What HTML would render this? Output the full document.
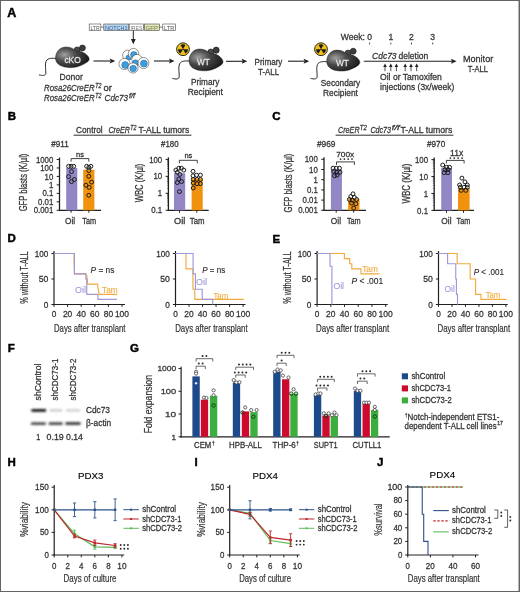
<!DOCTYPE html>
<html><head><meta charset="utf-8"><style>
html,body{margin:0;padding:0;background:#fff;}
#wrap{position:relative;width:520px;height:592px;overflow:hidden;background:#fff;}
svg{position:absolute;left:0;top:0;will-change:transform;}
text{font-family:"Liberation Sans", sans-serif;}
</style></head><body><div id="wrap">
<svg width="520" height="592" viewBox="0 0 520 592">
<rect x="0" y="0" width="520" height="592" fill="#fff"/>
<text x="7.30" y="16.90" font-size="12.5" font-weight="bold" fill="#000" stroke="#000" stroke-width="0.45" >A</text>
<defs><radialGradient id="mg" cx="0.27" cy="0.38" r="0.8"><stop offset="0" stop-color="#a0a0a0"/><stop offset="0.4" stop-color="#4a4a4a"/><stop offset="1" stop-color="#141414"/></radialGradient></defs>
<g transform="translate(55.50 46.90) scale(0.99 0.98)">
<path d="M1 11.8 C -3 11.5, -7.5 11, -9.5 14.5 C -11 18, -9.5 24, -9.8 27 C -10 29.5, -13 29.5, -16.7 28.5" stroke="#151515" stroke-width="0.9" fill="none" />
<circle cx="21.8" cy="2.9" r="2.9" fill="#4a4a4a" stroke="#151515" stroke-width="0.6"/><circle cx="27.2" cy="1.1" r="3.0" fill="#3c3c3c" stroke="#151515" stroke-width="0.6"/>
<path d="M0 11.5 C0 4.5, 5 0, 10.5 0 C15 0, 18.5 1.8, 21 4 C25 4.2, 29.5 5.5, 32.2 8.8 C34.6 11.3, 34.6 13.6, 32.5 15.2 C29 17.8, 24 20.3, 18 21.1 C11 21.7, 4 19.8, 1.5 16.2 C0.5 14.7, 0 13, 0 11.5 Z" fill="url(#mg)" stroke="#1a1a1a" stroke-width="0.4"/>
</g>
<text x="64.40" y="62.80" font-size="8.4" fill="#e6e6e6" stroke="#e6e6e6" stroke-width="0.26" textLength="16.40" lengthAdjust="spacingAndGlyphs" >cKO</text>
<text x="59.60" y="80.40" font-size="9.0" fill="#333333" stroke="#333333" stroke-width="0.26" textLength="23.30" lengthAdjust="spacingAndGlyphs" >Donor</text>
<text x="44.00" y="90.80" font-size="9.2" font-style="italic" fill="#333333" stroke="#333333" stroke-width="0.26" textLength="50.60" lengthAdjust="spacingAndGlyphs" >Rosa26CreER</text>
<text x="95.30" y="88.40" font-size="6.4" font-style="italic" fill="#333333" stroke="#333333" stroke-width="0.26" textLength="6.20" lengthAdjust="spacingAndGlyphs" >T2</text>
<text x="103.40" y="90.80" font-size="9.2" fill="#333333" stroke="#333333" stroke-width="0.26" textLength="8.40" lengthAdjust="spacingAndGlyphs" >or</text>
<text x="44.00" y="100.70" font-size="9.2" font-style="italic" fill="#333333" stroke="#333333" stroke-width="0.26" textLength="50.60" lengthAdjust="spacingAndGlyphs" >Rosa26CreER</text>
<text x="95.30" y="98.30" font-size="6.4" font-style="italic" fill="#333333" stroke="#333333" stroke-width="0.26" textLength="6.20" lengthAdjust="spacingAndGlyphs" >T2</text>
<text x="104.60" y="100.70" font-size="9.2" font-style="italic" fill="#333333" stroke="#333333" stroke-width="0.26" textLength="23.40" lengthAdjust="spacingAndGlyphs" >Cdc73</text>
<text x="128.90" y="98.30" font-size="6.4" font-style="italic" fill="#333333" stroke="#333333" stroke-width="0.26" textLength="6.20" lengthAdjust="spacingAndGlyphs" >f/f</text>
<line x1="93.50" y1="61.00" x2="110.70" y2="61.00" stroke="#231f20" stroke-width="1.1" />
<path d="M115.30 61.00 L109.70 58.50 L110.70 61.00 L109.70 63.50 Z" fill="#231f20"/>
<line x1="89.00" y1="27.10" x2="176.00" y2="27.10" stroke="#444" stroke-width="0.7" />
<rect x="89.20" y="24.00" width="11.60" height="6.60" fill="#fff" stroke="#4a4a4a" stroke-width="0.6"/>
<text x="95.00" y="29.50" font-size="6.0" text-anchor="middle" fill="#555" textLength="9.20" lengthAdjust="spacingAndGlyphs" >LTR</text>
<rect x="103.80" y="24.00" width="25.00" height="6.60" fill="#b9d3ec" stroke="#4a4a4a" stroke-width="0.6"/>
<text x="116.30" y="29.50" font-size="6.0" text-anchor="middle" fill="#2b5f96" textLength="22.60" lengthAdjust="spacingAndGlyphs" >NOTCH1</text>
<rect x="129.20" y="24.00" width="14.40" height="6.60" fill="#fff" stroke="#4a4a4a" stroke-width="0.6"/>
<text x="136.40" y="29.50" font-size="6.0" text-anchor="middle" fill="#777" textLength="12.00" lengthAdjust="spacingAndGlyphs" >IRES</text>
<rect x="144.30" y="24.00" width="15.00" height="6.60" fill="#dfe6b8" stroke="#4a4a4a" stroke-width="0.6"/>
<text x="151.80" y="29.50" font-size="6.0" text-anchor="middle" fill="#7a7a40" textLength="12.60" lengthAdjust="spacingAndGlyphs" >GFP</text>
<rect x="162.80" y="24.00" width="12.80" height="6.60" fill="#fff" stroke="#4a4a4a" stroke-width="0.6"/>
<text x="169.20" y="29.50" font-size="6.0" text-anchor="middle" fill="#555" textLength="10.40" lengthAdjust="spacingAndGlyphs" >LTR</text>
<line x1="133.30" y1="30.40" x2="133.30" y2="40.00" stroke="#231f20" stroke-width="1" />
<path d="M133.3 44.3 L130.9 39 L135.7 39 Z" fill="#231f20"/>
<circle cx="127.6" cy="55.2" r="5.0" fill="#fff" stroke="#4a3a3a" stroke-width="0.55"/>
<circle cx="128.5" cy="57.5" r="2.6" fill="#3d9ddb" stroke="#1f5f94" stroke-width="0.45"/>
<circle cx="133.5" cy="53.6" r="5.2" fill="#fff" stroke="#4a3a3a" stroke-width="0.55"/>
<circle cx="133.8" cy="54.8" r="3.3" fill="#3d9ddb" stroke="#1f5f94" stroke-width="0.45"/>
<circle cx="137.0" cy="59.6" r="5.2" fill="#fff" stroke="#4a3a3a" stroke-width="0.55"/>
<circle cx="135.4" cy="62.8" r="3.0" fill="#3d9ddb" stroke="#1f5f94" stroke-width="0.45"/>
<circle cx="124.5" cy="64.0" r="5.6" fill="#fff" stroke="#4a3a3a" stroke-width="0.55"/>
<circle cx="125.2" cy="65.0" r="3.5" fill="#3d9ddb" stroke="#1f5f94" stroke-width="0.45"/>
<circle cx="143.5" cy="63.0" r="5.5" fill="#fff" stroke="#4a3a3a" stroke-width="0.55"/>
<circle cx="143.9" cy="63.6" r="3.5" fill="#3d9ddb" stroke="#1f5f94" stroke-width="0.45"/>
<circle cx="133.0" cy="68.0" r="5.1" fill="#fff" stroke="#4a3a3a" stroke-width="0.55"/>
<circle cx="133.2" cy="68.6" r="3.3" fill="#3d9ddb" stroke="#1f5f94" stroke-width="0.45"/>
<line x1="154.00" y1="61.00" x2="170.00" y2="61.00" stroke="#231f20" stroke-width="1.1" />
<path d="M174.60 61.00 L169.00 58.50 L170.00 61.00 L169.00 63.50 Z" fill="#231f20"/>
<circle cx="183" cy="49.2" r="6.4" fill="#f2c21b" stroke="#1a1a1a" stroke-width="0.9"/>
<path d="M183.65 48.07 L185.50 44.88 A4.992000000000001 4.992000000000001 0 0 0 180.50 44.88 L182.35 48.07 Z" fill="#1a1a1a"/>
<path d="M181.70 49.20 L178.01 49.20 A4.992000000000001 4.992000000000001 0 0 0 180.50 53.52 L182.35 50.33 Z" fill="#1a1a1a"/>
<path d="M183.65 50.33 L185.50 53.52 A4.992000000000001 4.992000000000001 0 0 0 187.99 49.20 L184.30 49.20 Z" fill="#1a1a1a"/>
<circle cx="183" cy="49.2" r="0.9" fill="#1a1a1a"/>
<g transform="translate(189.00 49.00) scale(1.0 1.03)">
<path d="M1 11.8 C -3 11.5, -7.5 11, -9.5 14.5 C -11 18, -9.5 24, -9.8 27 C -10 29.5, -13 29.5, -16.7 28.5" stroke="#151515" stroke-width="0.9" fill="none" />
<circle cx="21.8" cy="2.9" r="2.9" fill="#4a4a4a" stroke="#151515" stroke-width="0.6"/><circle cx="27.2" cy="1.1" r="3.0" fill="#3c3c3c" stroke="#151515" stroke-width="0.6"/>
<path d="M0 11.5 C0 4.5, 5 0, 10.5 0 C15 0, 18.5 1.8, 21 4 C25 4.2, 29.5 5.5, 32.2 8.8 C34.6 11.3, 34.6 13.6, 32.5 15.2 C29 17.8, 24 20.3, 18 21.1 C11 21.7, 4 19.8, 1.5 16.2 C0.5 14.7, 0 13, 0 11.5 Z" fill="url(#mg)" stroke="#1a1a1a" stroke-width="0.4"/>
</g>
<text x="197.10" y="64.50" font-size="8.6" fill="#e6e6e6" stroke="#e6e6e6" stroke-width="0.26" textLength="12.80" lengthAdjust="spacingAndGlyphs" >WT</text>
<text x="191.00" y="84.50" font-size="8.8" fill="#333333" stroke="#333333" stroke-width="0.26" textLength="28.40" lengthAdjust="spacingAndGlyphs" >Primary</text>
<text x="187.80" y="94.80" font-size="8.8" fill="#333333" stroke="#333333" stroke-width="0.26" textLength="35.10" lengthAdjust="spacingAndGlyphs" >Recipient</text>
<line x1="226.00" y1="61.30" x2="242.70" y2="61.30" stroke="#231f20" stroke-width="1.1" />
<path d="M247.30 61.30 L241.70 58.80 L242.70 61.30 L241.70 63.80 Z" fill="#231f20"/>
<text x="254.50" y="65.40" font-size="8.8" fill="#333333" stroke="#333333" stroke-width="0.26" textLength="27.90" lengthAdjust="spacingAndGlyphs" >Primary</text>
<text x="258.00" y="75.40" font-size="8.8" fill="#333333" stroke="#333333" stroke-width="0.26" textLength="21.20" lengthAdjust="spacingAndGlyphs" >T-ALL</text>
<line x1="288.00" y1="61.20" x2="304.60" y2="61.20" stroke="#231f20" stroke-width="1.1" />
<path d="M309.20 61.20 L303.60 58.70 L304.60 61.20 L303.60 63.70 Z" fill="#231f20"/>
<circle cx="321" cy="49.2" r="6.4" fill="#f2c21b" stroke="#1a1a1a" stroke-width="0.9"/>
<path d="M321.65 48.07 L323.50 44.88 A4.992000000000001 4.992000000000001 0 0 0 318.50 44.88 L320.35 48.07 Z" fill="#1a1a1a"/>
<path d="M319.70 49.20 L316.01 49.20 A4.992000000000001 4.992000000000001 0 0 0 318.50 53.52 L320.35 50.33 Z" fill="#1a1a1a"/>
<path d="M321.65 50.33 L323.50 53.52 A4.992000000000001 4.992000000000001 0 0 0 325.99 49.20 L322.30 49.20 Z" fill="#1a1a1a"/>
<circle cx="321" cy="49.2" r="0.9" fill="#1a1a1a"/>
<g transform="translate(326.70 50.10) scale(0.975 0.99)">
<path d="M1 11.8 C -3 11.5, -7.5 11, -9.5 14.5 C -11 18, -9.5 24, -9.8 27 C -10 29.5, -13 29.5, -16.7 28.5" stroke="#151515" stroke-width="0.9" fill="none" />
<circle cx="21.8" cy="2.9" r="2.9" fill="#4a4a4a" stroke="#151515" stroke-width="0.6"/><circle cx="27.2" cy="1.1" r="3.0" fill="#3c3c3c" stroke="#151515" stroke-width="0.6"/>
<path d="M0 11.5 C0 4.5, 5 0, 10.5 0 C15 0, 18.5 1.8, 21 4 C25 4.2, 29.5 5.5, 32.2 8.8 C34.6 11.3, 34.6 13.6, 32.5 15.2 C29 17.8, 24 20.3, 18 21.1 C11 21.7, 4 19.8, 1.5 16.2 C0.5 14.7, 0 13, 0 11.5 Z" fill="url(#mg)" stroke="#1a1a1a" stroke-width="0.4"/>
</g>
<text x="335.90" y="65.60" font-size="8.8" fill="#e6e6e6" stroke="#e6e6e6" stroke-width="0.26" textLength="13.00" lengthAdjust="spacingAndGlyphs" >WT</text>
<text x="320.80" y="86.20" font-size="8.8" fill="#333333" stroke="#333333" stroke-width="0.26" textLength="39.40" lengthAdjust="spacingAndGlyphs" >Secondary</text>
<text x="323.00" y="96.20" font-size="8.8" fill="#333333" stroke="#333333" stroke-width="0.26" textLength="34.90" lengthAdjust="spacingAndGlyphs" >Recipient</text>
<text x="340.80" y="40.00" font-size="8.6" fill="#333333" stroke="#333333" stroke-width="0.26" >Week:</text>
<text x="369.60" y="40.00" font-size="8.6" text-anchor="middle" fill="#333333" stroke="#333333" stroke-width="0.26" >0</text>
<line x1="369.60" y1="42.60" x2="369.60" y2="44.40" stroke="#333333" stroke-width="0.9" />
<text x="390.80" y="40.00" font-size="8.6" text-anchor="middle" fill="#333333" stroke="#333333" stroke-width="0.26" >1</text>
<line x1="390.80" y1="42.60" x2="390.80" y2="44.40" stroke="#333333" stroke-width="0.9" />
<text x="411.50" y="40.00" font-size="8.6" text-anchor="middle" fill="#333333" stroke="#333333" stroke-width="0.26" >2</text>
<line x1="411.50" y1="42.60" x2="411.50" y2="44.40" stroke="#333333" stroke-width="0.9" />
<text x="432.70" y="40.00" font-size="8.6" text-anchor="middle" fill="#333333" stroke="#333333" stroke-width="0.26" >3</text>
<line x1="432.70" y1="42.60" x2="432.70" y2="44.40" stroke="#333333" stroke-width="0.9" />
<line x1="363.80" y1="61.20" x2="452.00" y2="61.20" stroke="#231f20" stroke-width="1.1" />
<path d="M456.60 61.20 L451.00 58.70 L452.00 61.20 L451.00 63.70 Z" fill="#231f20"/>
<text x="372.00" y="58.60" font-size="8.8" font-style="italic" fill="#333333" stroke="#333333" stroke-width="0.26" textLength="24.60" lengthAdjust="spacingAndGlyphs" >Cdc73</text>
<text x="398.40" y="58.60" font-size="8.8" fill="#333333" stroke="#333333" stroke-width="0.26" textLength="30.00" lengthAdjust="spacingAndGlyphs" >deletion</text>
<line x1="385.00" y1="65.50" x2="385.00" y2="71.20" stroke="#231f20" stroke-width="0.8" />
<path d="M385 63.4 L383.2 66.9 L386.8 66.9 Z" fill="#231f20"/>
<line x1="390.80" y1="65.50" x2="390.80" y2="71.20" stroke="#231f20" stroke-width="0.8" />
<path d="M390.8 63.4 L389.0 66.9 L392.6 66.9 Z" fill="#231f20"/>
<line x1="396.40" y1="65.50" x2="396.40" y2="71.20" stroke="#231f20" stroke-width="0.8" />
<path d="M396.4 63.4 L394.59999999999997 66.9 L398.2 66.9 Z" fill="#231f20"/>
<line x1="405.20" y1="65.50" x2="405.20" y2="71.20" stroke="#231f20" stroke-width="0.8" />
<path d="M405.2 63.4 L403.4 66.9 L407.0 66.9 Z" fill="#231f20"/>
<line x1="411.00" y1="65.50" x2="411.00" y2="71.20" stroke="#231f20" stroke-width="0.8" />
<path d="M411 63.4 L409.2 66.9 L412.8 66.9 Z" fill="#231f20"/>
<line x1="416.70" y1="65.50" x2="416.70" y2="71.20" stroke="#231f20" stroke-width="0.8" />
<path d="M416.7 63.4 L414.9 66.9 L418.5 66.9 Z" fill="#231f20"/>
<text x="380.00" y="80.20" font-size="8.9" fill="#333333" stroke="#333333" stroke-width="0.26" textLength="61.90" lengthAdjust="spacingAndGlyphs" >Oil or Tamoxifen</text>
<text x="380.00" y="89.90" font-size="8.9" fill="#333333" stroke="#333333" stroke-width="0.26" textLength="74.20" lengthAdjust="spacingAndGlyphs" >injections (3x/week)</text>
<text x="463.00" y="62.20" font-size="8.8" fill="#333333" stroke="#333333" stroke-width="0.26" textLength="30.20" lengthAdjust="spacingAndGlyphs" >Monitor</text>
<text x="467.70" y="72.00" font-size="8.8" fill="#333333" stroke="#333333" stroke-width="0.26" textLength="20.20" lengthAdjust="spacingAndGlyphs" >T-ALL</text>
<text x="7.70" y="120.30" font-size="11.5" font-weight="bold" fill="#000" stroke="#000" stroke-width="0.45" >B</text>
<text x="272.30" y="120.40" font-size="11.5" font-weight="bold" fill="#000" stroke="#000" stroke-width="0.45" >C</text>
<text x="76.00" y="132.80" font-size="8.6" fill="#333333" stroke="#333333" stroke-width="0.26" textLength="26.60" lengthAdjust="spacingAndGlyphs" >Control</text>
<text x="108.40" y="132.80" font-size="8.6" font-style="italic" fill="#333333" stroke="#333333" stroke-width="0.26" textLength="21.60" lengthAdjust="spacingAndGlyphs" >CreER</text>
<text x="130.20" y="130.00" font-size="6.6" font-style="italic" fill="#333333" stroke="#333333" stroke-width="0.26" textLength="6.20" lengthAdjust="spacingAndGlyphs" >T2</text>
<text x="138.40" y="132.80" font-size="8.6" fill="#333333" stroke="#333333" stroke-width="0.26" textLength="50.80" lengthAdjust="spacingAndGlyphs" >T-ALL tumors</text>
<line x1="73.60" y1="135.20" x2="191.40" y2="135.20" stroke="#231f20" stroke-width="0.95" />
<text x="338.00" y="132.80" font-size="8.6" font-style="italic" fill="#333333" stroke="#333333" stroke-width="0.26" textLength="21.60" lengthAdjust="spacingAndGlyphs" >CreER</text>
<text x="359.80" y="130.00" font-size="6.6" font-style="italic" fill="#333333" stroke="#333333" stroke-width="0.26" textLength="7.00" lengthAdjust="spacingAndGlyphs" >T2</text>
<text x="370.40" y="132.80" font-size="8.6" font-style="italic" fill="#333333" stroke="#333333" stroke-width="0.26" textLength="20.60" lengthAdjust="spacingAndGlyphs" >Cdc73</text>
<text x="391.80" y="130.00" font-size="6.6" font-style="italic" fill="#333333" stroke="#333333" stroke-width="0.26" textLength="7.80" lengthAdjust="spacingAndGlyphs" >f/f</text>
<text x="400.40" y="132.80" font-size="8.6" fill="#333333" stroke="#333333" stroke-width="0.26" textLength="52.00" lengthAdjust="spacingAndGlyphs" >T-ALL tumors</text>
<line x1="335.60" y1="135.20" x2="453.40" y2="135.20" stroke="#231f20" stroke-width="0.95" />
<line x1="59.50" y1="157.50" x2="59.50" y2="210.90" stroke="#231f20" stroke-width="1.3" />
<line x1="58.90" y1="210.30" x2="101.00" y2="210.30" stroke="#231f20" stroke-width="1.3" />
<line x1="56.70" y1="210.30" x2="59.50" y2="210.30" stroke="#231f20" stroke-width="1.0" />
<text x="53.30" y="213.40" font-size="8.7" text-anchor="end" fill="#333333" stroke="#333333" stroke-width="0.26" textLength="19.59" lengthAdjust="spacingAndGlyphs" >0.001</text>
<line x1="56.70" y1="201.83" x2="59.50" y2="201.83" stroke="#231f20" stroke-width="1.0" />
<text x="53.30" y="204.93" font-size="8.7" text-anchor="end" fill="#333333" stroke="#333333" stroke-width="0.26" textLength="15.24" lengthAdjust="spacingAndGlyphs" >0.01</text>
<line x1="56.70" y1="193.37" x2="59.50" y2="193.37" stroke="#231f20" stroke-width="1.0" />
<text x="53.30" y="196.47" font-size="8.7" text-anchor="end" fill="#333333" stroke="#333333" stroke-width="0.26" textLength="10.89" lengthAdjust="spacingAndGlyphs" >0.1</text>
<line x1="56.70" y1="184.90" x2="59.50" y2="184.90" stroke="#231f20" stroke-width="1.0" />
<text x="53.30" y="188.00" font-size="8.7" text-anchor="end" fill="#333333" stroke="#333333" stroke-width="0.26" textLength="4.35" lengthAdjust="spacingAndGlyphs" >1</text>
<line x1="56.70" y1="176.43" x2="59.50" y2="176.43" stroke="#231f20" stroke-width="1.0" />
<text x="53.30" y="179.53" font-size="8.7" text-anchor="end" fill="#333333" stroke="#333333" stroke-width="0.26" textLength="8.71" lengthAdjust="spacingAndGlyphs" >10</text>
<line x1="56.70" y1="167.97" x2="59.50" y2="167.97" stroke="#231f20" stroke-width="1.0" />
<text x="53.30" y="171.07" font-size="8.7" text-anchor="end" fill="#333333" stroke="#333333" stroke-width="0.26" textLength="13.06" lengthAdjust="spacingAndGlyphs" >100</text>
<line x1="56.70" y1="159.50" x2="59.50" y2="159.50" stroke="#231f20" stroke-width="1.0" />
<text x="53.30" y="162.60" font-size="8.7" text-anchor="end" fill="#333333" stroke="#333333" stroke-width="0.26" textLength="17.42" lengthAdjust="spacingAndGlyphs" >1000</text>
<text x="23.60" y="182.50" font-size="10.0" text-anchor="middle" fill="#333333" stroke="#333333" stroke-width="0.26" textLength="57.7" lengthAdjust="spacingAndGlyphs" transform="rotate(-90 23.60 182.50)" dominant-baseline="central">GFP blasts (K/µl)</text>
<rect x="66.20" y="168.00" width="11.10" height="42.30" fill="#9287c4" />
<line x1="71.10" y1="210.30" x2="71.10" y2="212.70" stroke="#231f20" stroke-width="1.0" />
<text x="65.00" y="223.90" font-size="8.6" fill="#333333" stroke="#333333" stroke-width="0.26" textLength="10.20" lengthAdjust="spacingAndGlyphs" >Oil</text>
<circle cx="68.60" cy="166.30" r="1.95" fill="none" stroke="#1a1a1a" stroke-width="1.0"/>
<circle cx="71.10" cy="166.30" r="1.95" fill="none" stroke="#1a1a1a" stroke-width="1.0"/>
<circle cx="73.70" cy="166.30" r="1.95" fill="none" stroke="#1a1a1a" stroke-width="1.0"/>
<circle cx="71.50" cy="171.60" r="1.95" fill="none" stroke="#1a1a1a" stroke-width="1.0"/>
<circle cx="68.60" cy="176.60" r="1.95" fill="none" stroke="#1a1a1a" stroke-width="1.0"/>
<circle cx="74.40" cy="179.50" r="1.95" fill="none" stroke="#1a1a1a" stroke-width="1.0"/>
<circle cx="71.50" cy="181.60" r="1.95" fill="none" stroke="#1a1a1a" stroke-width="1.0"/>
<rect x="83.20" y="169.70" width="11.20" height="40.60" fill="#f1920f" />
<line x1="88.80" y1="210.30" x2="88.80" y2="212.70" stroke="#231f20" stroke-width="1.0" />
<text x="82.30" y="223.90" font-size="8.6" fill="#333333" stroke="#333333" stroke-width="0.26" textLength="13.80" lengthAdjust="spacingAndGlyphs" >Tam</text>
<circle cx="86.60" cy="166.30" r="1.95" fill="none" stroke="#1a1a1a" stroke-width="1.0"/>
<circle cx="90.90" cy="166.30" r="1.95" fill="none" stroke="#1a1a1a" stroke-width="1.0"/>
<circle cx="88.80" cy="167.30" r="1.95" fill="none" stroke="#1a1a1a" stroke-width="1.0"/>
<circle cx="88.80" cy="170.60" r="1.95" fill="none" stroke="#1a1a1a" stroke-width="1.0"/>
<circle cx="88.80" cy="176.30" r="1.95" fill="none" stroke="#1a1a1a" stroke-width="1.0"/>
<circle cx="91.60" cy="182.10" r="1.95" fill="none" stroke="#1a1a1a" stroke-width="1.0"/>
<circle cx="85.90" cy="185.20" r="1.95" fill="none" stroke="#1a1a1a" stroke-width="1.0"/>
<circle cx="89.20" cy="187.40" r="1.95" fill="none" stroke="#1a1a1a" stroke-width="1.0"/>
<circle cx="88.80" cy="195.30" r="1.95" fill="none" stroke="#1a1a1a" stroke-width="1.0"/>
<text x="51.20" y="146.70" font-size="8.2" fill="#333333" stroke="#333333" stroke-width="0.26" textLength="17.50" lengthAdjust="spacingAndGlyphs" >#911</text>
<path d="M71.1 161.6 L71.1 158.6 L88.8 158.6 L88.8 161.6" stroke="#231f20" stroke-width="0.85" fill="none" />
<text x="79.95" y="156.60" font-size="7.4" text-anchor="middle" fill="#333333" stroke="#333333" stroke-width="0.26" >ns</text>
<line x1="168.40" y1="157.40" x2="168.40" y2="210.90" stroke="#231f20" stroke-width="1.3" />
<line x1="167.80" y1="210.30" x2="208.70" y2="210.30" stroke="#231f20" stroke-width="1.3" />
<line x1="165.60" y1="210.30" x2="168.40" y2="210.30" stroke="#231f20" stroke-width="1.0" />
<text x="162.20" y="213.40" font-size="8.7" text-anchor="end" fill="#333333" stroke="#333333" stroke-width="0.26" textLength="10.89" lengthAdjust="spacingAndGlyphs" >0.1</text>
<line x1="167.00" y1="205.19" x2="168.40" y2="205.19" stroke="#231f20" stroke-width="0.5" />
<line x1="167.00" y1="202.20" x2="168.40" y2="202.20" stroke="#231f20" stroke-width="0.5" />
<line x1="167.00" y1="200.09" x2="168.40" y2="200.09" stroke="#231f20" stroke-width="0.5" />
<line x1="167.00" y1="198.44" x2="168.40" y2="198.44" stroke="#231f20" stroke-width="0.5" />
<line x1="167.00" y1="197.10" x2="168.40" y2="197.10" stroke="#231f20" stroke-width="0.5" />
<line x1="167.00" y1="195.96" x2="168.40" y2="195.96" stroke="#231f20" stroke-width="0.5" />
<line x1="167.00" y1="194.98" x2="168.40" y2="194.98" stroke="#231f20" stroke-width="0.5" />
<line x1="167.00" y1="194.11" x2="168.40" y2="194.11" stroke="#231f20" stroke-width="0.5" />
<line x1="165.60" y1="193.33" x2="168.40" y2="193.33" stroke="#231f20" stroke-width="1.0" />
<text x="162.20" y="196.43" font-size="8.7" text-anchor="end" fill="#333333" stroke="#333333" stroke-width="0.26" textLength="4.35" lengthAdjust="spacingAndGlyphs" >1</text>
<line x1="167.00" y1="188.23" x2="168.40" y2="188.23" stroke="#231f20" stroke-width="0.5" />
<line x1="167.00" y1="185.24" x2="168.40" y2="185.24" stroke="#231f20" stroke-width="0.5" />
<line x1="167.00" y1="183.12" x2="168.40" y2="183.12" stroke="#231f20" stroke-width="0.5" />
<line x1="167.00" y1="181.47" x2="168.40" y2="181.47" stroke="#231f20" stroke-width="0.5" />
<line x1="167.00" y1="180.13" x2="168.40" y2="180.13" stroke="#231f20" stroke-width="0.5" />
<line x1="167.00" y1="178.99" x2="168.40" y2="178.99" stroke="#231f20" stroke-width="0.5" />
<line x1="167.00" y1="178.01" x2="168.40" y2="178.01" stroke="#231f20" stroke-width="0.5" />
<line x1="167.00" y1="177.14" x2="168.40" y2="177.14" stroke="#231f20" stroke-width="0.5" />
<line x1="165.60" y1="176.37" x2="168.40" y2="176.37" stroke="#231f20" stroke-width="1.0" />
<text x="162.20" y="179.47" font-size="8.7" text-anchor="end" fill="#333333" stroke="#333333" stroke-width="0.26" textLength="8.71" lengthAdjust="spacingAndGlyphs" >10</text>
<line x1="167.00" y1="171.26" x2="168.40" y2="171.26" stroke="#231f20" stroke-width="0.5" />
<line x1="167.00" y1="168.27" x2="168.40" y2="168.27" stroke="#231f20" stroke-width="0.5" />
<line x1="167.00" y1="166.15" x2="168.40" y2="166.15" stroke="#231f20" stroke-width="0.5" />
<line x1="167.00" y1="164.51" x2="168.40" y2="164.51" stroke="#231f20" stroke-width="0.5" />
<line x1="167.00" y1="163.16" x2="168.40" y2="163.16" stroke="#231f20" stroke-width="0.5" />
<line x1="167.00" y1="162.03" x2="168.40" y2="162.03" stroke="#231f20" stroke-width="0.5" />
<line x1="167.00" y1="161.04" x2="168.40" y2="161.04" stroke="#231f20" stroke-width="0.5" />
<line x1="167.00" y1="160.18" x2="168.40" y2="160.18" stroke="#231f20" stroke-width="0.5" />
<line x1="165.60" y1="159.40" x2="168.40" y2="159.40" stroke="#231f20" stroke-width="1.0" />
<text x="162.20" y="162.50" font-size="8.7" text-anchor="end" fill="#333333" stroke="#333333" stroke-width="0.26" textLength="13.06" lengthAdjust="spacingAndGlyphs" >100</text>
<text x="139.60" y="183.00" font-size="10.0" text-anchor="middle" fill="#333333" stroke="#333333" stroke-width="0.26" textLength="38.7" lengthAdjust="spacingAndGlyphs" transform="rotate(-90 139.60 183.00)" dominant-baseline="central">WBC (K/µl)</text>
<rect x="174.00" y="173.20" width="11.20" height="37.10" fill="#9287c4" />
<line x1="179.50" y1="210.30" x2="179.50" y2="212.70" stroke="#231f20" stroke-width="1.0" />
<text x="174.00" y="223.90" font-size="8.6" fill="#333333" stroke="#333333" stroke-width="0.26" textLength="11.30" lengthAdjust="spacingAndGlyphs" >Oil</text>
<circle cx="175.90" cy="170.10" r="1.95" fill="none" stroke="#1a1a1a" stroke-width="1.0"/>
<circle cx="178.80" cy="168.20" r="1.95" fill="none" stroke="#1a1a1a" stroke-width="1.0"/>
<circle cx="181.40" cy="168.20" r="1.95" fill="none" stroke="#1a1a1a" stroke-width="1.0"/>
<circle cx="183.80" cy="170.10" r="1.95" fill="none" stroke="#1a1a1a" stroke-width="1.0"/>
<circle cx="177.30" cy="172.30" r="1.95" fill="none" stroke="#1a1a1a" stroke-width="1.0"/>
<circle cx="179.90" cy="174.40" r="1.95" fill="none" stroke="#1a1a1a" stroke-width="1.0"/>
<circle cx="178.80" cy="179.10" r="1.95" fill="none" stroke="#1a1a1a" stroke-width="1.0"/>
<circle cx="181.60" cy="181.60" r="1.95" fill="none" stroke="#1a1a1a" stroke-width="1.0"/>
<circle cx="177.30" cy="182.60" r="1.95" fill="none" stroke="#1a1a1a" stroke-width="1.0"/>
<circle cx="179.50" cy="191.60" r="1.95" fill="none" stroke="#1a1a1a" stroke-width="1.0"/>
<rect x="191.60" y="178.30" width="11.10" height="32.00" fill="#f1920f" />
<line x1="196.80" y1="210.30" x2="196.80" y2="212.70" stroke="#231f20" stroke-width="1.0" />
<text x="189.80" y="223.90" font-size="8.6" fill="#333333" stroke="#333333" stroke-width="0.26" textLength="14.80" lengthAdjust="spacingAndGlyphs" >Tam</text>
<circle cx="193.00" cy="171.30" r="1.95" fill="none" stroke="#1a1a1a" stroke-width="1.0"/>
<circle cx="196.50" cy="175.10" r="1.95" fill="none" stroke="#1a1a1a" stroke-width="1.0"/>
<circle cx="200.40" cy="175.10" r="1.95" fill="none" stroke="#1a1a1a" stroke-width="1.0"/>
<circle cx="193.00" cy="175.80" r="1.95" fill="none" stroke="#1a1a1a" stroke-width="1.0"/>
<circle cx="193.20" cy="179.40" r="1.95" fill="none" stroke="#1a1a1a" stroke-width="1.0"/>
<circle cx="197.00" cy="179.40" r="1.95" fill="none" stroke="#1a1a1a" stroke-width="1.0"/>
<circle cx="200.40" cy="179.40" r="1.95" fill="none" stroke="#1a1a1a" stroke-width="1.0"/>
<circle cx="193.20" cy="183.00" r="1.95" fill="none" stroke="#1a1a1a" stroke-width="1.0"/>
<circle cx="197.00" cy="183.70" r="1.95" fill="none" stroke="#1a1a1a" stroke-width="1.0"/>
<circle cx="200.40" cy="183.70" r="1.95" fill="none" stroke="#1a1a1a" stroke-width="1.0"/>
<circle cx="193.20" cy="188.00" r="1.95" fill="none" stroke="#1a1a1a" stroke-width="1.0"/>
<text x="161.00" y="146.60" font-size="8.2" fill="#333333" stroke="#333333" stroke-width="0.26" textLength="17.60" lengthAdjust="spacingAndGlyphs" >#180</text>
<path d="M179.4 163.3 L179.4 160.3 L197.3 160.3 L197.3 163.3" stroke="#231f20" stroke-width="0.85" fill="none" />
<text x="188.35" y="158.30" font-size="7.4" text-anchor="middle" fill="#333333" stroke="#333333" stroke-width="0.26" >ns</text>
<line x1="324.00" y1="157.30" x2="324.00" y2="210.90" stroke="#231f20" stroke-width="1.3" />
<line x1="323.40" y1="210.30" x2="366.00" y2="210.30" stroke="#231f20" stroke-width="1.3" />
<line x1="321.20" y1="210.30" x2="324.00" y2="210.30" stroke="#231f20" stroke-width="1.0" />
<text x="317.80" y="213.40" font-size="8.7" text-anchor="end" fill="#333333" stroke="#333333" stroke-width="0.26" textLength="19.59" lengthAdjust="spacingAndGlyphs" >0.001</text>
<line x1="321.20" y1="200.10" x2="324.00" y2="200.10" stroke="#231f20" stroke-width="1.0" />
<text x="317.80" y="203.20" font-size="8.7" text-anchor="end" fill="#333333" stroke="#333333" stroke-width="0.26" textLength="15.24" lengthAdjust="spacingAndGlyphs" >0.01</text>
<line x1="321.20" y1="189.90" x2="324.00" y2="189.90" stroke="#231f20" stroke-width="1.0" />
<text x="317.80" y="193.00" font-size="8.7" text-anchor="end" fill="#333333" stroke="#333333" stroke-width="0.26" textLength="10.89" lengthAdjust="spacingAndGlyphs" >0.1</text>
<line x1="321.20" y1="179.70" x2="324.00" y2="179.70" stroke="#231f20" stroke-width="1.0" />
<text x="317.80" y="182.80" font-size="8.7" text-anchor="end" fill="#333333" stroke="#333333" stroke-width="0.26" textLength="4.35" lengthAdjust="spacingAndGlyphs" >1</text>
<line x1="321.20" y1="169.50" x2="324.00" y2="169.50" stroke="#231f20" stroke-width="1.0" />
<text x="317.80" y="172.60" font-size="8.7" text-anchor="end" fill="#333333" stroke="#333333" stroke-width="0.26" textLength="8.71" lengthAdjust="spacingAndGlyphs" >10</text>
<line x1="321.20" y1="159.30" x2="324.00" y2="159.30" stroke="#231f20" stroke-width="1.0" />
<text x="317.80" y="162.40" font-size="8.7" text-anchor="end" fill="#333333" stroke="#333333" stroke-width="0.26" textLength="13.06" lengthAdjust="spacingAndGlyphs" >100</text>
<text x="288.60" y="183.00" font-size="10.0" text-anchor="middle" fill="#333333" stroke="#333333" stroke-width="0.26" textLength="58.8" lengthAdjust="spacingAndGlyphs" transform="rotate(-90 288.60 183.00)" dominant-baseline="central">GFP blasts (K/µl)</text>
<rect x="330.90" y="169.40" width="11.00" height="40.90" fill="#9287c4" />
<line x1="336.20" y1="210.30" x2="336.20" y2="212.70" stroke="#231f20" stroke-width="1.0" />
<text x="330.80" y="223.90" font-size="8.6" fill="#333333" stroke="#333333" stroke-width="0.26" textLength="10.20" lengthAdjust="spacingAndGlyphs" >Oil</text>
<circle cx="333.10" cy="168.20" r="1.95" fill="none" stroke="#1a1a1a" stroke-width="1.0"/>
<circle cx="336.20" cy="168.20" r="1.95" fill="none" stroke="#1a1a1a" stroke-width="1.0"/>
<circle cx="339.50" cy="168.20" r="1.95" fill="none" stroke="#1a1a1a" stroke-width="1.0"/>
<circle cx="333.80" cy="171.50" r="1.95" fill="none" stroke="#1a1a1a" stroke-width="1.0"/>
<circle cx="336.70" cy="172.30" r="1.95" fill="none" stroke="#1a1a1a" stroke-width="1.0"/>
<circle cx="340.00" cy="172.30" r="1.95" fill="none" stroke="#1a1a1a" stroke-width="1.0"/>
<circle cx="334.50" cy="175.80" r="1.95" fill="none" stroke="#1a1a1a" stroke-width="1.0"/>
<circle cx="337.10" cy="175.10" r="1.95" fill="none" stroke="#1a1a1a" stroke-width="1.0"/>
<rect x="348.10" y="198.80" width="11.40" height="11.50" fill="#f1920f" />
<line x1="353.70" y1="210.30" x2="353.70" y2="212.70" stroke="#231f20" stroke-width="1.0" />
<text x="346.90" y="223.90" font-size="8.6" fill="#333333" stroke="#333333" stroke-width="0.26" textLength="13.80" lengthAdjust="spacingAndGlyphs" >Tam</text>
<circle cx="353.00" cy="193.80" r="1.95" fill="none" stroke="#1a1a1a" stroke-width="1.0"/>
<circle cx="350.80" cy="196.60" r="1.95" fill="none" stroke="#1a1a1a" stroke-width="1.0"/>
<circle cx="354.40" cy="197.40" r="1.95" fill="none" stroke="#1a1a1a" stroke-width="1.0"/>
<circle cx="349.40" cy="199.50" r="1.95" fill="none" stroke="#1a1a1a" stroke-width="1.0"/>
<circle cx="352.30" cy="200.20" r="1.95" fill="none" stroke="#1a1a1a" stroke-width="1.0"/>
<circle cx="356.60" cy="199.50" r="1.95" fill="none" stroke="#1a1a1a" stroke-width="1.0"/>
<circle cx="351.60" cy="203.10" r="1.95" fill="none" stroke="#1a1a1a" stroke-width="1.0"/>
<circle cx="355.90" cy="203.80" r="1.95" fill="none" stroke="#1a1a1a" stroke-width="1.0"/>
<circle cx="353.70" cy="208.10" r="1.95" fill="none" stroke="#1a1a1a" stroke-width="1.0"/>
<text x="317.00" y="146.50" font-size="8.2" fill="#333333" stroke="#333333" stroke-width="0.26" textLength="18.50" lengthAdjust="spacingAndGlyphs" >#969</text>
<path d="M336.5 164.9 L336.5 161.9 L354.4 161.9 L354.4 164.9" stroke="#231f20" stroke-width="0.85" fill="none" />
<text x="336.20" y="156.50" font-size="8.0" fill="#333333" stroke="#333333" stroke-width="0.26" textLength="18.00" lengthAdjust="spacingAndGlyphs" >700x</text>
<circle cx="340.60" cy="159.10" r="0.9" fill="#2a2a2a"/>
<circle cx="344.40" cy="159.10" r="0.9" fill="#2a2a2a"/>
<circle cx="348.20" cy="159.10" r="0.9" fill="#2a2a2a"/>
<circle cx="352.00" cy="159.10" r="0.9" fill="#2a2a2a"/>
<line x1="434.20" y1="157.60" x2="434.20" y2="211.00" stroke="#231f20" stroke-width="1.3" />
<line x1="433.60" y1="210.40" x2="474.00" y2="210.40" stroke="#231f20" stroke-width="1.3" />
<line x1="431.40" y1="210.40" x2="434.20" y2="210.40" stroke="#231f20" stroke-width="1.0" />
<text x="428.00" y="213.50" font-size="8.7" text-anchor="end" fill="#333333" stroke="#333333" stroke-width="0.26" textLength="10.89" lengthAdjust="spacingAndGlyphs" >0.1</text>
<line x1="432.80" y1="205.30" x2="434.20" y2="205.30" stroke="#231f20" stroke-width="0.5" />
<line x1="432.80" y1="202.32" x2="434.20" y2="202.32" stroke="#231f20" stroke-width="0.5" />
<line x1="432.80" y1="200.21" x2="434.20" y2="200.21" stroke="#231f20" stroke-width="0.5" />
<line x1="432.80" y1="198.56" x2="434.20" y2="198.56" stroke="#231f20" stroke-width="0.5" />
<line x1="432.80" y1="197.22" x2="434.20" y2="197.22" stroke="#231f20" stroke-width="0.5" />
<line x1="432.80" y1="196.09" x2="434.20" y2="196.09" stroke="#231f20" stroke-width="0.5" />
<line x1="432.80" y1="195.11" x2="434.20" y2="195.11" stroke="#231f20" stroke-width="0.5" />
<line x1="432.80" y1="194.24" x2="434.20" y2="194.24" stroke="#231f20" stroke-width="0.5" />
<line x1="431.40" y1="193.47" x2="434.20" y2="193.47" stroke="#231f20" stroke-width="1.0" />
<text x="428.00" y="196.57" font-size="8.7" text-anchor="end" fill="#333333" stroke="#333333" stroke-width="0.26" textLength="4.35" lengthAdjust="spacingAndGlyphs" >1</text>
<line x1="432.80" y1="188.37" x2="434.20" y2="188.37" stroke="#231f20" stroke-width="0.5" />
<line x1="432.80" y1="185.39" x2="434.20" y2="185.39" stroke="#231f20" stroke-width="0.5" />
<line x1="432.80" y1="183.27" x2="434.20" y2="183.27" stroke="#231f20" stroke-width="0.5" />
<line x1="432.80" y1="181.63" x2="434.20" y2="181.63" stroke="#231f20" stroke-width="0.5" />
<line x1="432.80" y1="180.29" x2="434.20" y2="180.29" stroke="#231f20" stroke-width="0.5" />
<line x1="432.80" y1="179.16" x2="434.20" y2="179.16" stroke="#231f20" stroke-width="0.5" />
<line x1="432.80" y1="178.17" x2="434.20" y2="178.17" stroke="#231f20" stroke-width="0.5" />
<line x1="432.80" y1="177.31" x2="434.20" y2="177.31" stroke="#231f20" stroke-width="0.5" />
<line x1="431.40" y1="176.53" x2="434.20" y2="176.53" stroke="#231f20" stroke-width="1.0" />
<text x="428.00" y="179.63" font-size="8.7" text-anchor="end" fill="#333333" stroke="#333333" stroke-width="0.26" textLength="8.71" lengthAdjust="spacingAndGlyphs" >10</text>
<line x1="432.80" y1="171.44" x2="434.20" y2="171.44" stroke="#231f20" stroke-width="0.5" />
<line x1="432.80" y1="168.45" x2="434.20" y2="168.45" stroke="#231f20" stroke-width="0.5" />
<line x1="432.80" y1="166.34" x2="434.20" y2="166.34" stroke="#231f20" stroke-width="0.5" />
<line x1="432.80" y1="164.70" x2="434.20" y2="164.70" stroke="#231f20" stroke-width="0.5" />
<line x1="432.80" y1="163.36" x2="434.20" y2="163.36" stroke="#231f20" stroke-width="0.5" />
<line x1="432.80" y1="162.22" x2="434.20" y2="162.22" stroke="#231f20" stroke-width="0.5" />
<line x1="432.80" y1="161.24" x2="434.20" y2="161.24" stroke="#231f20" stroke-width="0.5" />
<line x1="432.80" y1="160.37" x2="434.20" y2="160.37" stroke="#231f20" stroke-width="0.5" />
<line x1="431.40" y1="159.60" x2="434.20" y2="159.60" stroke="#231f20" stroke-width="1.0" />
<text x="428.00" y="162.70" font-size="8.7" text-anchor="end" fill="#333333" stroke="#333333" stroke-width="0.26" textLength="13.06" lengthAdjust="spacingAndGlyphs" >100</text>
<text x="406.50" y="183.50" font-size="10.0" text-anchor="middle" fill="#333333" stroke="#333333" stroke-width="0.26" textLength="40.0" lengthAdjust="spacingAndGlyphs" transform="rotate(-90 406.50 183.50)" dominant-baseline="central">WBC (K/µl)</text>
<rect x="441.20" y="168.00" width="10.80" height="42.40" fill="#9287c4" />
<line x1="446.50" y1="210.40" x2="446.50" y2="212.80" stroke="#231f20" stroke-width="1.0" />
<text x="441.30" y="224.00" font-size="8.6" fill="#333333" stroke="#333333" stroke-width="0.26" textLength="10.20" lengthAdjust="spacingAndGlyphs" >Oil</text>
<circle cx="442.70" cy="165.00" r="1.95" fill="none" stroke="#1a1a1a" stroke-width="1.0"/>
<circle cx="446.50" cy="167.30" r="1.95" fill="none" stroke="#1a1a1a" stroke-width="1.0"/>
<circle cx="449.60" cy="167.30" r="1.95" fill="none" stroke="#1a1a1a" stroke-width="1.0"/>
<circle cx="445.00" cy="169.60" r="1.95" fill="none" stroke="#1a1a1a" stroke-width="1.0"/>
<circle cx="448.00" cy="169.60" r="1.95" fill="none" stroke="#1a1a1a" stroke-width="1.0"/>
<circle cx="444.20" cy="172.70" r="1.95" fill="none" stroke="#1a1a1a" stroke-width="1.0"/>
<circle cx="448.00" cy="172.70" r="1.95" fill="none" stroke="#1a1a1a" stroke-width="1.0"/>
<rect x="458.00" y="188.00" width="11.60" height="22.40" fill="#f1920f" />
<line x1="463.50" y1="210.40" x2="463.50" y2="212.80" stroke="#231f20" stroke-width="1.0" />
<text x="456.60" y="224.00" font-size="8.6" fill="#333333" stroke="#333333" stroke-width="0.26" textLength="13.80" lengthAdjust="spacingAndGlyphs" >Tam</text>
<circle cx="461.90" cy="178.10" r="1.95" fill="none" stroke="#1a1a1a" stroke-width="1.0"/>
<circle cx="459.60" cy="185.00" r="1.95" fill="none" stroke="#1a1a1a" stroke-width="1.0"/>
<circle cx="465.00" cy="181.90" r="1.95" fill="none" stroke="#1a1a1a" stroke-width="1.0"/>
<circle cx="467.30" cy="185.00" r="1.95" fill="none" stroke="#1a1a1a" stroke-width="1.0"/>
<circle cx="460.40" cy="187.30" r="1.95" fill="none" stroke="#1a1a1a" stroke-width="1.0"/>
<circle cx="463.90" cy="187.30" r="1.95" fill="none" stroke="#1a1a1a" stroke-width="1.0"/>
<circle cx="467.30" cy="187.30" r="1.95" fill="none" stroke="#1a1a1a" stroke-width="1.0"/>
<circle cx="461.20" cy="190.40" r="1.95" fill="none" stroke="#1a1a1a" stroke-width="1.0"/>
<circle cx="465.80" cy="190.40" r="1.95" fill="none" stroke="#1a1a1a" stroke-width="1.0"/>
<text x="427.00" y="146.80" font-size="8.2" fill="#333333" stroke="#333333" stroke-width="0.26" textLength="18.20" lengthAdjust="spacingAndGlyphs" >#970</text>
<path d="M446.4 163.4 L446.4 160.4 L464.1 160.4 L464.1 163.4" stroke="#231f20" stroke-width="0.85" fill="none" />
<text x="450.00" y="156.00" font-size="8.4" fill="#333333" stroke="#333333" stroke-width="0.26" textLength="13.20" lengthAdjust="spacingAndGlyphs" >11x</text>
<circle cx="450.35" cy="158.10" r="0.9" fill="#2a2a2a"/>
<circle cx="454.25" cy="158.10" r="0.9" fill="#2a2a2a"/>
<circle cx="458.15" cy="158.10" r="0.9" fill="#2a2a2a"/>
<circle cx="462.05" cy="158.10" r="0.9" fill="#2a2a2a"/>
<text x="7.60" y="242.30" font-size="11.5" font-weight="bold" fill="#000" stroke="#000" stroke-width="0.45" >D</text>
<text x="272.50" y="242.70" font-size="11.5" font-weight="bold" fill="#000" stroke="#000" stroke-width="0.45" >E</text>
<line x1="54.00" y1="251.00" x2="54.00" y2="305.10" stroke="#231f20" stroke-width="1.2" />
<line x1="53.40" y1="304.50" x2="125.00" y2="304.50" stroke="#231f20" stroke-width="1.2" />
<line x1="51.40" y1="304.50" x2="54.00" y2="304.50" stroke="#231f20" stroke-width="1.0" />
<text x="43.70" y="307.70" font-size="8.9" fill="#333333" stroke="#333333" stroke-width="0.26" textLength="4.60" lengthAdjust="spacingAndGlyphs" >0</text>
<line x1="51.40" y1="279.00" x2="54.00" y2="279.00" stroke="#231f20" stroke-width="1.0" />
<text x="38.70" y="282.20" font-size="8.9" fill="#333333" stroke="#333333" stroke-width="0.26" textLength="9.60" lengthAdjust="spacingAndGlyphs" >50</text>
<line x1="51.40" y1="253.50" x2="54.00" y2="253.50" stroke="#231f20" stroke-width="1.0" />
<text x="34.70" y="256.70" font-size="8.9" fill="#333333" stroke="#333333" stroke-width="0.26" textLength="13.60" lengthAdjust="spacingAndGlyphs" >100</text>
<line x1="54.00" y1="304.50" x2="54.00" y2="306.90" stroke="#231f20" stroke-width="1.0" />
<text x="51.70" y="317.10" font-size="9.0" fill="#333333" stroke="#333333" stroke-width="0.26" textLength="4.60" lengthAdjust="spacingAndGlyphs" >0</text>
<line x1="67.60" y1="304.50" x2="67.60" y2="306.90" stroke="#231f20" stroke-width="1.0" />
<text x="62.90" y="317.10" font-size="9.0" fill="#333333" stroke="#333333" stroke-width="0.26" textLength="9.40" lengthAdjust="spacingAndGlyphs" >20</text>
<line x1="81.20" y1="304.50" x2="81.20" y2="306.90" stroke="#231f20" stroke-width="1.0" />
<text x="76.50" y="317.10" font-size="9.0" fill="#333333" stroke="#333333" stroke-width="0.26" textLength="9.40" lengthAdjust="spacingAndGlyphs" >40</text>
<line x1="94.80" y1="304.50" x2="94.80" y2="306.90" stroke="#231f20" stroke-width="1.0" />
<text x="90.10" y="317.10" font-size="9.0" fill="#333333" stroke="#333333" stroke-width="0.26" textLength="9.40" lengthAdjust="spacingAndGlyphs" >60</text>
<line x1="108.40" y1="304.50" x2="108.40" y2="306.90" stroke="#231f20" stroke-width="1.0" />
<text x="103.70" y="317.10" font-size="9.0" fill="#333333" stroke="#333333" stroke-width="0.26" textLength="9.40" lengthAdjust="spacingAndGlyphs" >80</text>
<line x1="122.00" y1="304.50" x2="122.00" y2="306.90" stroke="#231f20" stroke-width="1.0" />
<text x="114.90" y="317.10" font-size="9.0" fill="#333333" stroke="#333333" stroke-width="0.26" textLength="14.20" lengthAdjust="spacingAndGlyphs" >100</text>
<text x="23.90" y="277.50" font-size="10.8" text-anchor="middle" fill="#333333" stroke="#333333" stroke-width="0.22" textLength="52.5" lengthAdjust="spacingAndGlyphs" transform="rotate(-90 23.90 277.50)" dominant-baseline="central">% without T-ALL</text>
<text x="54.00" y="331.80" font-size="10.5" fill="#333333" stroke="#333333" stroke-width="0.2" textLength="71.40" lengthAdjust="spacingAndGlyphs" >Days after transplant</text>
<path d="M54.00 253.50 L74.06 253.50 L74.06 261.15 L74.54 273.90 L85.96 273.90 L86.98 276.45 L87.66 284.10 L97.52 284.10 L98.20 289.20 L99.22 294.30 L117.24 294.30" stroke="#f0aa3c" stroke-width="1.15" fill="none" />
<path d="M54.00 253.50 L74.40 253.50 L74.40 273.90 L85.82 273.90 L85.82 279.00 L86.78 279.00 L86.78 294.30 L97.93 294.30 L97.93 299.40 L116.90 299.40" stroke="#9f98da" stroke-width="1.15" fill="none" />
<text x="90.6" y="272.9" font-size="8.8" fill="#231f20" stroke="#231f20" stroke-width="0.1" textLength="23.80" lengthAdjust="spacingAndGlyphs"><tspan font-style="italic">P</tspan> = ns</text>
<text x="75.0" y="292.7" font-size="8.8" fill="#9f98da" stroke="#9f98da" stroke-width="0.1" textLength="10.90" lengthAdjust="spacingAndGlyphs">Oil</text>
<text x="102.0" y="292.7" font-size="8.8" fill="#f0aa3c" stroke="#f0aa3c" stroke-width="0.1" textLength="15.70" lengthAdjust="spacingAndGlyphs">Tam</text>
<line x1="175.50" y1="251.00" x2="175.50" y2="305.10" stroke="#231f20" stroke-width="1.2" />
<line x1="174.90" y1="304.50" x2="245.50" y2="304.50" stroke="#231f20" stroke-width="1.2" />
<line x1="172.90" y1="304.50" x2="175.50" y2="304.50" stroke="#231f20" stroke-width="1.0" />
<text x="165.20" y="307.70" font-size="8.9" fill="#333333" stroke="#333333" stroke-width="0.26" textLength="4.60" lengthAdjust="spacingAndGlyphs" >0</text>
<line x1="172.90" y1="279.00" x2="175.50" y2="279.00" stroke="#231f20" stroke-width="1.0" />
<text x="160.20" y="282.20" font-size="8.9" fill="#333333" stroke="#333333" stroke-width="0.26" textLength="9.60" lengthAdjust="spacingAndGlyphs" >50</text>
<line x1="172.90" y1="253.50" x2="175.50" y2="253.50" stroke="#231f20" stroke-width="1.0" />
<text x="156.20" y="256.70" font-size="8.9" fill="#333333" stroke="#333333" stroke-width="0.26" textLength="13.60" lengthAdjust="spacingAndGlyphs" >100</text>
<line x1="175.50" y1="304.50" x2="175.50" y2="306.90" stroke="#231f20" stroke-width="1.0" />
<text x="173.20" y="317.10" font-size="9.0" fill="#333333" stroke="#333333" stroke-width="0.26" textLength="4.60" lengthAdjust="spacingAndGlyphs" >0</text>
<line x1="189.02" y1="304.50" x2="189.02" y2="306.90" stroke="#231f20" stroke-width="1.0" />
<text x="184.32" y="317.10" font-size="9.0" fill="#333333" stroke="#333333" stroke-width="0.26" textLength="9.40" lengthAdjust="spacingAndGlyphs" >20</text>
<line x1="202.54" y1="304.50" x2="202.54" y2="306.90" stroke="#231f20" stroke-width="1.0" />
<text x="197.84" y="317.10" font-size="9.0" fill="#333333" stroke="#333333" stroke-width="0.26" textLength="9.40" lengthAdjust="spacingAndGlyphs" >40</text>
<line x1="216.06" y1="304.50" x2="216.06" y2="306.90" stroke="#231f20" stroke-width="1.0" />
<text x="211.36" y="317.10" font-size="9.0" fill="#333333" stroke="#333333" stroke-width="0.26" textLength="9.40" lengthAdjust="spacingAndGlyphs" >60</text>
<line x1="229.58" y1="304.50" x2="229.58" y2="306.90" stroke="#231f20" stroke-width="1.0" />
<text x="224.88" y="317.10" font-size="9.0" fill="#333333" stroke="#333333" stroke-width="0.26" textLength="9.40" lengthAdjust="spacingAndGlyphs" >80</text>
<line x1="243.10" y1="304.50" x2="243.10" y2="306.90" stroke="#231f20" stroke-width="1.0" />
<text x="236.00" y="317.10" font-size="9.0" fill="#333333" stroke="#333333" stroke-width="0.26" textLength="14.20" lengthAdjust="spacingAndGlyphs" >100</text>
<text x="175.20" y="331.80" font-size="10.5" fill="#333333" stroke="#333333" stroke-width="0.2" textLength="72.40" lengthAdjust="spacingAndGlyphs" >Days after transplant</text>
<path d="M175.50 253.50 L185.98 253.50 L185.98 268.80 L192.94 268.80 L192.94 289.20 L194.77 289.20 L194.77 299.40 L243.78 299.40" stroke="#f0aa3c" stroke-width="1.15" fill="none" />
<path d="M175.50 253.50 L193.08 253.50 L193.08 273.90 L195.44 273.90 L195.44 289.20 L202.20 289.20 L202.20 299.40 L212.68 299.40 L212.68 304.50" stroke="#9f98da" stroke-width="1.15" fill="none" />
<text x="202.2" y="273.4" font-size="8.8" fill="#231f20" stroke="#231f20" stroke-width="0.1" textLength="23.00" lengthAdjust="spacingAndGlyphs"><tspan font-style="italic">P</tspan> = ns</text>
<text x="196.0" y="284.9" font-size="8.8" fill="#9f98da" stroke="#9f98da" stroke-width="0.1" textLength="10.90" lengthAdjust="spacingAndGlyphs">Oil</text>
<text x="213.4" y="298.6" font-size="8.8" fill="#f0aa3c" stroke="#f0aa3c" stroke-width="0.1" textLength="14.80" lengthAdjust="spacingAndGlyphs">Tam</text>
<line x1="317.10" y1="251.00" x2="317.10" y2="305.10" stroke="#231f20" stroke-width="1.2" />
<line x1="316.50" y1="304.50" x2="387.70" y2="304.50" stroke="#231f20" stroke-width="1.2" />
<line x1="314.50" y1="304.50" x2="317.10" y2="304.50" stroke="#231f20" stroke-width="1.0" />
<text x="306.80" y="307.70" font-size="8.9" fill="#333333" stroke="#333333" stroke-width="0.26" textLength="4.60" lengthAdjust="spacingAndGlyphs" >0</text>
<line x1="314.50" y1="279.00" x2="317.10" y2="279.00" stroke="#231f20" stroke-width="1.0" />
<text x="301.80" y="282.20" font-size="8.9" fill="#333333" stroke="#333333" stroke-width="0.26" textLength="9.60" lengthAdjust="spacingAndGlyphs" >50</text>
<line x1="314.50" y1="253.50" x2="317.10" y2="253.50" stroke="#231f20" stroke-width="1.0" />
<text x="297.80" y="256.70" font-size="8.9" fill="#333333" stroke="#333333" stroke-width="0.26" textLength="13.60" lengthAdjust="spacingAndGlyphs" >100</text>
<line x1="317.10" y1="304.50" x2="317.10" y2="306.90" stroke="#231f20" stroke-width="1.0" />
<text x="314.80" y="317.10" font-size="9.0" fill="#333333" stroke="#333333" stroke-width="0.26" textLength="4.60" lengthAdjust="spacingAndGlyphs" >0</text>
<line x1="330.82" y1="304.50" x2="330.82" y2="306.90" stroke="#231f20" stroke-width="1.0" />
<text x="326.12" y="317.10" font-size="9.0" fill="#333333" stroke="#333333" stroke-width="0.26" textLength="9.40" lengthAdjust="spacingAndGlyphs" >20</text>
<line x1="344.54" y1="304.50" x2="344.54" y2="306.90" stroke="#231f20" stroke-width="1.0" />
<text x="339.84" y="317.10" font-size="9.0" fill="#333333" stroke="#333333" stroke-width="0.26" textLength="9.40" lengthAdjust="spacingAndGlyphs" >40</text>
<line x1="358.26" y1="304.50" x2="358.26" y2="306.90" stroke="#231f20" stroke-width="1.0" />
<text x="353.56" y="317.10" font-size="9.0" fill="#333333" stroke="#333333" stroke-width="0.26" textLength="9.40" lengthAdjust="spacingAndGlyphs" >60</text>
<line x1="371.98" y1="304.50" x2="371.98" y2="306.90" stroke="#231f20" stroke-width="1.0" />
<text x="367.28" y="317.10" font-size="9.0" fill="#333333" stroke="#333333" stroke-width="0.26" textLength="9.40" lengthAdjust="spacingAndGlyphs" >80</text>
<line x1="385.70" y1="304.50" x2="385.70" y2="306.90" stroke="#231f20" stroke-width="1.0" />
<text x="378.60" y="317.10" font-size="9.0" fill="#333333" stroke="#333333" stroke-width="0.26" textLength="14.20" lengthAdjust="spacingAndGlyphs" >100</text>
<text x="287.30" y="277.50" font-size="10.8" text-anchor="middle" fill="#333333" stroke="#333333" stroke-width="0.22" textLength="52.5" lengthAdjust="spacingAndGlyphs" transform="rotate(-90 287.30 277.50)" dominant-baseline="central">% without T-ALL</text>
<text x="316.00" y="331.80" font-size="10.5" fill="#333333" stroke="#333333" stroke-width="0.2" textLength="73.20" lengthAdjust="spacingAndGlyphs" >Days after transplant</text>
<path d="M317.10 253.50 L344.40 253.50 L344.40 258.60 L349.69 258.60 L349.69 263.70 L351.81 263.70 L351.81 268.80 L361.00 268.80 L361.00 273.90 L379.53 273.90" stroke="#f0aa3c" stroke-width="1.15" fill="none" />
<path d="M317.10 253.50 L330.00 253.50 L330.00 266.25 L331.92 266.25 L331.92 304.50" stroke="#9f98da" stroke-width="1.15" fill="none" />
<text x="351.4" y="283.8" font-size="8.8" fill="#231f20" stroke="#231f20" stroke-width="0.1" textLength="31.80" lengthAdjust="spacingAndGlyphs"><tspan font-style="italic">P</tspan> &lt; .001</text>
<text x="333.4" y="289.3" font-size="8.8" fill="#9f98da" stroke="#9f98da" stroke-width="0.1" textLength="10.60" lengthAdjust="spacingAndGlyphs">Oil</text>
<text x="362.2" y="272.3" font-size="8.8" fill="#f0aa3c" stroke="#f0aa3c" stroke-width="0.1" textLength="15.70" lengthAdjust="spacingAndGlyphs">Tam</text>
<line x1="438.50" y1="251.00" x2="438.50" y2="305.10" stroke="#231f20" stroke-width="1.2" />
<line x1="437.90" y1="304.50" x2="507.70" y2="304.50" stroke="#231f20" stroke-width="1.2" />
<line x1="435.90" y1="304.50" x2="438.50" y2="304.50" stroke="#231f20" stroke-width="1.0" />
<text x="428.20" y="307.70" font-size="8.9" fill="#333333" stroke="#333333" stroke-width="0.26" textLength="4.60" lengthAdjust="spacingAndGlyphs" >0</text>
<line x1="435.90" y1="279.00" x2="438.50" y2="279.00" stroke="#231f20" stroke-width="1.0" />
<text x="423.20" y="282.20" font-size="8.9" fill="#333333" stroke="#333333" stroke-width="0.26" textLength="9.60" lengthAdjust="spacingAndGlyphs" >50</text>
<line x1="435.90" y1="253.50" x2="438.50" y2="253.50" stroke="#231f20" stroke-width="1.0" />
<text x="419.20" y="256.70" font-size="8.9" fill="#333333" stroke="#333333" stroke-width="0.26" textLength="13.60" lengthAdjust="spacingAndGlyphs" >100</text>
<line x1="438.50" y1="304.50" x2="438.50" y2="306.90" stroke="#231f20" stroke-width="1.0" />
<text x="436.20" y="317.10" font-size="9.0" fill="#333333" stroke="#333333" stroke-width="0.26" textLength="4.60" lengthAdjust="spacingAndGlyphs" >0</text>
<line x1="451.98" y1="304.50" x2="451.98" y2="306.90" stroke="#231f20" stroke-width="1.0" />
<text x="447.28" y="317.10" font-size="9.0" fill="#333333" stroke="#333333" stroke-width="0.26" textLength="9.40" lengthAdjust="spacingAndGlyphs" >20</text>
<line x1="465.46" y1="304.50" x2="465.46" y2="306.90" stroke="#231f20" stroke-width="1.0" />
<text x="460.76" y="317.10" font-size="9.0" fill="#333333" stroke="#333333" stroke-width="0.26" textLength="9.40" lengthAdjust="spacingAndGlyphs" >40</text>
<line x1="478.94" y1="304.50" x2="478.94" y2="306.90" stroke="#231f20" stroke-width="1.0" />
<text x="474.24" y="317.10" font-size="9.0" fill="#333333" stroke="#333333" stroke-width="0.26" textLength="9.40" lengthAdjust="spacingAndGlyphs" >60</text>
<line x1="492.42" y1="304.50" x2="492.42" y2="306.90" stroke="#231f20" stroke-width="1.0" />
<text x="487.72" y="317.10" font-size="9.0" fill="#333333" stroke="#333333" stroke-width="0.26" textLength="9.40" lengthAdjust="spacingAndGlyphs" >80</text>
<line x1="505.90" y1="304.50" x2="505.90" y2="306.90" stroke="#231f20" stroke-width="1.0" />
<text x="498.80" y="317.10" font-size="9.0" fill="#333333" stroke="#333333" stroke-width="0.26" textLength="14.20" lengthAdjust="spacingAndGlyphs" >100</text>
<text x="437.50" y="331.80" font-size="10.5" fill="#333333" stroke="#333333" stroke-width="0.2" textLength="72.70" lengthAdjust="spacingAndGlyphs" >Days after transplant</text>
<path d="M438.50 253.50 L457.17 253.50 L457.17 263.70 L470.18 263.70 L470.18 279.00 L475.57 279.00 L475.57 294.30 L480.96 294.30 L480.96 299.40 L506.57 299.40" stroke="#f0aa3c" stroke-width="1.15" fill="none" />
<path d="M438.50 253.50 L447.60 253.50 L447.60 263.70 L455.75 263.70 L455.75 279.00 L456.43 279.00 L456.43 294.30 L457.51 294.30 L457.51 304.50" stroke="#9f98da" stroke-width="1.15" fill="none" />
<text x="473.7" y="275.4" font-size="8.8" fill="#231f20" stroke="#231f20" stroke-width="0.1" textLength="30.30" lengthAdjust="spacingAndGlyphs"><tspan font-style="italic">P</tspan> &lt; .001</text>
<text x="444.5" y="292.3" font-size="8.8" fill="#9f98da" stroke="#9f98da" stroke-width="0.1" textLength="10.30" lengthAdjust="spacingAndGlyphs">Oil</text>
<text x="485.7" y="297.7" font-size="8.8" fill="#f0aa3c" stroke="#f0aa3c" stroke-width="0.1" textLength="14.50" lengthAdjust="spacingAndGlyphs">Tam</text>
<text x="7.70" y="351.60" font-size="11.5" font-weight="bold" fill="#000" stroke="#000" stroke-width="0.45" >F</text>
<text x="40.60" y="400.40" font-size="8.6" fill="#333333" stroke="#333333" stroke-width="0.26" textLength="36.80" lengthAdjust="spacingAndGlyphs" transform="rotate(-90 40.60 400.40)" >shControl</text>
<text x="58.40" y="400.40" font-size="8.6" fill="#333333" stroke="#333333" stroke-width="0.26" textLength="41.80" lengthAdjust="spacingAndGlyphs" transform="rotate(-90 58.40 400.40)" >shCDC73-1</text>
<text x="76.00" y="400.40" font-size="8.6" fill="#333333" stroke="#333333" stroke-width="0.26" textLength="41.80" lengthAdjust="spacingAndGlyphs" transform="rotate(-90 76.00 400.40)" >shCDC73-2</text>
<defs><filter id="blur" x="-20%" y="-80%" width="140%" height="260%"><feGaussianBlur stdDeviation="0.8"/></filter></defs>
<g filter="url(#blur)">
<rect x="31.2" y="408.9" width="15.0" height="2.9" rx="1.3" fill="#141414"/>
<rect x="49.6" y="409.2" width="12.8" height="2.3" rx="1.0" fill="#c8c8c8"/>
<rect x="65.8" y="409.2" width="14.4" height="2.3" rx="1.0" fill="#cdcdcd"/>
<rect x="30.8" y="422.2" width="15.2" height="2.8" rx="1.2" fill="#505050"/>
<rect x="48.6" y="422.2" width="14.2" height="2.8" rx="1.2" fill="#484848"/>
<rect x="65.3" y="422.0" width="15.4" height="3.1" rx="1.3" fill="#444"/>
</g>
<text x="86.00" y="412.80" font-size="8.4" fill="#333333" stroke="#333333" stroke-width="0.26" textLength="24.00" lengthAdjust="spacingAndGlyphs" >Cdc73</text>
<text x="86.00" y="426.30" font-size="8.4" fill="#333333" stroke="#333333" stroke-width="0.26" textLength="25.20" lengthAdjust="spacingAndGlyphs" >β-actin</text>
<text x="36.30" y="439.80" font-size="8.4" fill="#333333" stroke="#333333" stroke-width="0.26" textLength="4.00" lengthAdjust="spacingAndGlyphs" >1</text>
<text x="46.50" y="439.80" font-size="8.4" fill="#333333" stroke="#333333" stroke-width="0.26" textLength="17.30" lengthAdjust="spacingAndGlyphs" >0.19</text>
<text x="66.10" y="439.80" font-size="8.4" fill="#333333" stroke="#333333" stroke-width="0.26" textLength="16.80" lengthAdjust="spacingAndGlyphs" >0.14</text>
<text x="130.00" y="352.00" font-size="11.5" font-weight="bold" fill="#000" stroke="#000" stroke-width="0.45" >G</text>
<line x1="181.10" y1="366.70" x2="181.10" y2="437.40" stroke="#231f20" stroke-width="1.2" />
<line x1="180.50" y1="436.80" x2="389.70" y2="436.80" stroke="#231f20" stroke-width="1.2" />
<line x1="178.50" y1="436.80" x2="181.10" y2="436.80" stroke="#231f20" stroke-width="1.0" />
<text x="171.60" y="439.60" font-size="8.0" fill="#333333" stroke="#333333" stroke-width="0.26" textLength="4.60" lengthAdjust="spacingAndGlyphs" >1</text>
<line x1="178.50" y1="414.03" x2="181.10" y2="414.03" stroke="#231f20" stroke-width="1.0" />
<text x="165.00" y="416.83" font-size="8.0" fill="#333333" stroke="#333333" stroke-width="0.26" textLength="11.20" lengthAdjust="spacingAndGlyphs" >10</text>
<line x1="178.50" y1="391.27" x2="181.10" y2="391.27" stroke="#231f20" stroke-width="1.0" />
<text x="160.70" y="394.07" font-size="8.0" fill="#333333" stroke="#333333" stroke-width="0.26" textLength="15.50" lengthAdjust="spacingAndGlyphs" >100</text>
<line x1="178.50" y1="368.50" x2="181.10" y2="368.50" stroke="#231f20" stroke-width="1.0" />
<text x="157.40" y="371.30" font-size="8.0" fill="#333333" stroke="#333333" stroke-width="0.26" textLength="18.80" lengthAdjust="spacingAndGlyphs" >1000</text>
<text x="148.10" y="404.20" font-size="10.2" text-anchor="middle" fill="#333333" stroke="#333333" stroke-width="0.18" textLength="58.3" lengthAdjust="spacingAndGlyphs" transform="rotate(-90 148.10 404.20)" dominant-baseline="central">Fold expansion</text>
<rect x="192.40" y="376.40" width="7.35" height="60.40" fill="#1c4a8a" />
<rect x="200.80" y="399.70" width="7.35" height="37.10" fill="#cc0a2e" />
<rect x="209.90" y="395.70" width="7.35" height="41.10" fill="#3cae3e" />
<circle cx="196.10" cy="371.70" r="1.60" fill="#ffffff" stroke="#3a3a3a" stroke-width="0.75"/>
<circle cx="196.10" cy="373.60" r="1.60" fill="#ffffff" stroke="#3a3a3a" stroke-width="0.75"/>
<circle cx="196.10" cy="383.20" r="1.20" fill="#e8e8f0" stroke="none" stroke-width="0"/>
<circle cx="204.00" cy="397.60" r="1.60" fill="#ffffff" stroke="#3a3a3a" stroke-width="0.75"/>
<circle cx="206.50" cy="398.00" r="1.60" fill="#ffffff" stroke="#3a3a3a" stroke-width="0.75"/>
<circle cx="213.60" cy="390.30" r="1.60" fill="#ffffff" stroke="#3a3a3a" stroke-width="0.75"/>
<circle cx="213.60" cy="395.30" r="1.60" fill="#ffffff" stroke="#3a3a3a" stroke-width="0.75"/>
<circle cx="213.60" cy="405.40" r="1.70" fill="none" stroke="#0d3d12" stroke-width="0.9"/>
<text x="194.10" y="448.00" font-size="8.2" fill="#333333" stroke="#333333" stroke-width="0.26" textLength="17.20" lengthAdjust="spacingAndGlyphs" >CEM</text>
<text x="211.90" y="444.60" font-size="5.4" fill="#333333" stroke="#333333" stroke-width="0.26" textLength="2.60" lengthAdjust="spacingAndGlyphs" >†</text>
<path d="M196.1 369.0 L196.1 366.2 L205.3 366.2 L205.3 369.0" stroke="#444" stroke-width="0.8" fill="none" />
<circle cx="198.80" cy="363.60" r="1.0" fill="#2a2a2a"/>
<circle cx="202.60" cy="363.60" r="1.0" fill="#2a2a2a"/>
<path d="M196.1 361.5 L196.1 358.7 L212.8 358.7 L212.8 361.5" stroke="#444" stroke-width="0.8" fill="none" />
<circle cx="202.55" cy="356.10" r="1.0" fill="#2a2a2a"/>
<circle cx="206.35" cy="356.10" r="1.0" fill="#2a2a2a"/>
<rect x="232.80" y="382.50" width="7.35" height="54.30" fill="#1c4a8a" />
<rect x="241.80" y="411.40" width="7.35" height="25.40" fill="#cc0a2e" />
<rect x="250.30" y="412.10" width="7.35" height="24.70" fill="#3cae3e" />
<circle cx="233.70" cy="380.10" r="1.60" fill="#ffffff" stroke="#3a3a3a" stroke-width="0.75"/>
<circle cx="236.40" cy="382.50" r="1.60" fill="#ffffff" stroke="#3a3a3a" stroke-width="0.75"/>
<circle cx="239.50" cy="382.20" r="1.60" fill="#ffffff" stroke="#3a3a3a" stroke-width="0.75"/>
<circle cx="245.20" cy="407.40" r="1.60" fill="#ffffff" stroke="#3a3a3a" stroke-width="0.75"/>
<circle cx="242.50" cy="412.50" r="1.70" fill="none" stroke="#0d3d12" stroke-width="0.9"/>
<circle cx="251.20" cy="410.10" r="1.60" fill="#ffffff" stroke="#3a3a3a" stroke-width="0.75"/>
<circle cx="256.60" cy="410.10" r="1.60" fill="#ffffff" stroke="#3a3a3a" stroke-width="0.75"/>
<circle cx="253.30" cy="416.80" r="1.70" fill="none" stroke="#0d3d12" stroke-width="0.9"/>
<text x="229.00" y="448.00" font-size="8.2" fill="#333333" stroke="#333333" stroke-width="0.26" textLength="32.80" lengthAdjust="spacingAndGlyphs" >HPB-ALL</text>
<path d="M235.8 377.8 L235.8 375.0 L245.2 375.0 L245.2 377.8" stroke="#444" stroke-width="0.8" fill="none" />
<circle cx="234.80" cy="372.40" r="1.0" fill="#2a2a2a"/>
<circle cx="238.60" cy="372.40" r="1.0" fill="#2a2a2a"/>
<circle cx="242.40" cy="372.40" r="1.0" fill="#2a2a2a"/>
<circle cx="246.20" cy="372.40" r="1.0" fill="#2a2a2a"/>
<path d="M235.8 370.0 L235.8 367.2 L253.5 367.2 L253.5 370.0" stroke="#444" stroke-width="0.8" fill="none" />
<circle cx="238.95" cy="364.60" r="1.0" fill="#2a2a2a"/>
<circle cx="242.75" cy="364.60" r="1.0" fill="#2a2a2a"/>
<circle cx="246.55" cy="364.60" r="1.0" fill="#2a2a2a"/>
<circle cx="250.35" cy="364.60" r="1.0" fill="#2a2a2a"/>
<rect x="273.20" y="371.90" width="7.35" height="64.90" fill="#1c4a8a" />
<rect x="282.00" y="379.30" width="7.35" height="57.50" fill="#cc0a2e" />
<rect x="290.30" y="393.60" width="7.35" height="43.20" fill="#3cae3e" />
<circle cx="274.70" cy="371.90" r="1.60" fill="#ffffff" stroke="#3a3a3a" stroke-width="0.75"/>
<circle cx="277.50" cy="369.50" r="1.60" fill="#ffffff" stroke="#3a3a3a" stroke-width="0.75"/>
<circle cx="280.70" cy="370.40" r="1.60" fill="#ffffff" stroke="#3a3a3a" stroke-width="0.75"/>
<circle cx="282.90" cy="375.60" r="1.60" fill="#ffffff" stroke="#3a3a3a" stroke-width="0.75"/>
<circle cx="288.50" cy="377.50" r="1.60" fill="#ffffff" stroke="#3a3a3a" stroke-width="0.75"/>
<circle cx="293.60" cy="389.20" r="1.60" fill="#ffffff" stroke="#3a3a3a" stroke-width="0.75"/>
<circle cx="291.20" cy="393.60" r="1.70" fill="none" stroke="#0d3d12" stroke-width="0.9"/>
<circle cx="296.00" cy="393.60" r="1.70" fill="none" stroke="#0d3d12" stroke-width="0.9"/>
<text x="272.50" y="448.00" font-size="8.2" fill="#333333" stroke="#333333" stroke-width="0.26" textLength="23.30" lengthAdjust="spacingAndGlyphs" >THP-6</text>
<text x="296.30" y="444.60" font-size="5.4" fill="#333333" stroke="#333333" stroke-width="0.26" textLength="2.60" lengthAdjust="spacingAndGlyphs" >†</text>
<path d="M277.0 366.0 L277.0 363.2 L286.2 363.2 L286.2 366.0" stroke="#444" stroke-width="0.8" fill="none" />
<circle cx="281.60" cy="360.60" r="1.0" fill="#2a2a2a"/>
<path d="M277.0 358.1 L277.0 355.3 L294.0 355.3 L294.0 358.1" stroke="#444" stroke-width="0.8" fill="none" />
<circle cx="281.70" cy="352.70" r="1.0" fill="#2a2a2a"/>
<circle cx="285.50" cy="352.70" r="1.0" fill="#2a2a2a"/>
<circle cx="289.30" cy="352.70" r="1.0" fill="#2a2a2a"/>
<rect x="313.90" y="395.10" width="7.35" height="41.70" fill="#1c4a8a" />
<rect x="322.30" y="415.50" width="7.35" height="21.30" fill="#cc0a2e" />
<rect x="330.60" y="415.50" width="7.35" height="21.30" fill="#3cae3e" />
<circle cx="315.50" cy="394.50" r="1.60" fill="#ffffff" stroke="#3a3a3a" stroke-width="0.75"/>
<circle cx="318.30" cy="393.50" r="1.60" fill="#ffffff" stroke="#3a3a3a" stroke-width="0.75"/>
<circle cx="320.50" cy="393.50" r="1.60" fill="#ffffff" stroke="#3a3a3a" stroke-width="0.75"/>
<circle cx="323.80" cy="413.30" r="1.60" fill="#ffffff" stroke="#3a3a3a" stroke-width="0.75"/>
<circle cx="328.60" cy="413.30" r="1.60" fill="#ffffff" stroke="#3a3a3a" stroke-width="0.75"/>
<circle cx="326.00" cy="416.00" r="1.70" fill="none" stroke="#0d3d12" stroke-width="0.9"/>
<circle cx="334.50" cy="412.50" r="1.60" fill="#ffffff" stroke="#3a3a3a" stroke-width="0.75"/>
<circle cx="332.00" cy="415.20" r="1.60" fill="#ffffff" stroke="#3a3a3a" stroke-width="0.75"/>
<circle cx="336.50" cy="415.20" r="1.60" fill="#ffffff" stroke="#3a3a3a" stroke-width="0.75"/>
<text x="313.80" y="448.00" font-size="8.2" fill="#333333" stroke="#333333" stroke-width="0.26" textLength="23.70" lengthAdjust="spacingAndGlyphs" >SUPT1</text>
<path d="M317.6 390.8 L317.6 388.0 L326.9 388.0 L326.9 390.8" stroke="#444" stroke-width="0.8" fill="none" />
<circle cx="316.55" cy="385.40" r="1.0" fill="#2a2a2a"/>
<circle cx="320.35" cy="385.40" r="1.0" fill="#2a2a2a"/>
<circle cx="324.15" cy="385.40" r="1.0" fill="#2a2a2a"/>
<circle cx="327.95" cy="385.40" r="1.0" fill="#2a2a2a"/>
<path d="M317.6 382.1 L317.6 379.3 L334.3 379.3 L334.3 382.1" stroke="#444" stroke-width="0.8" fill="none" />
<circle cx="320.25" cy="376.70" r="1.0" fill="#2a2a2a"/>
<circle cx="324.05" cy="376.70" r="1.0" fill="#2a2a2a"/>
<circle cx="327.85" cy="376.70" r="1.0" fill="#2a2a2a"/>
<circle cx="331.65" cy="376.70" r="1.0" fill="#2a2a2a"/>
<rect x="353.80" y="391.00" width="7.35" height="45.80" fill="#1c4a8a" />
<rect x="362.50" y="404.00" width="7.35" height="32.80" fill="#cc0a2e" />
<rect x="370.90" y="409.90" width="7.35" height="26.90" fill="#3cae3e" />
<circle cx="355.00" cy="388.50" r="1.60" fill="#ffffff" stroke="#3a3a3a" stroke-width="0.75"/>
<circle cx="357.50" cy="390.80" r="1.60" fill="#ffffff" stroke="#3a3a3a" stroke-width="0.75"/>
<circle cx="360.50" cy="390.80" r="1.60" fill="#ffffff" stroke="#3a3a3a" stroke-width="0.75"/>
<circle cx="364.00" cy="402.60" r="1.60" fill="#ffffff" stroke="#3a3a3a" stroke-width="0.75"/>
<circle cx="366.50" cy="402.60" r="1.60" fill="#ffffff" stroke="#3a3a3a" stroke-width="0.75"/>
<circle cx="369.00" cy="402.60" r="1.60" fill="#ffffff" stroke="#3a3a3a" stroke-width="0.75"/>
<circle cx="374.80" cy="406.80" r="1.60" fill="#ffffff" stroke="#3a3a3a" stroke-width="0.75"/>
<circle cx="374.80" cy="410.00" r="1.60" fill="#ffffff" stroke="#3a3a3a" stroke-width="0.75"/>
<circle cx="374.80" cy="416.50" r="1.70" fill="none" stroke="#0d3d12" stroke-width="0.9"/>
<text x="352.50" y="448.00" font-size="8.2" fill="#333333" stroke="#333333" stroke-width="0.26" textLength="28.80" lengthAdjust="spacingAndGlyphs" >CUTLL1</text>
<path d="M357.5 384.0 L357.5 381.2 L367.2 381.2 L367.2 384.0" stroke="#444" stroke-width="0.8" fill="none" />
<circle cx="360.45" cy="378.60" r="1.0" fill="#2a2a2a"/>
<circle cx="364.25" cy="378.60" r="1.0" fill="#2a2a2a"/>
<path d="M357.5 376.6 L357.5 373.8 L375.1 373.8 L375.1 376.6" stroke="#444" stroke-width="0.8" fill="none" />
<circle cx="362.50" cy="371.20" r="1.0" fill="#2a2a2a"/>
<circle cx="366.30" cy="371.20" r="1.0" fill="#2a2a2a"/>
<circle cx="370.10" cy="371.20" r="1.0" fill="#2a2a2a"/>
<rect x="401.80" y="373.30" width="6.20" height="6.00" fill="#1c4a8a" />
<text x="411.40" y="378.50" font-size="8.6" fill="#333333" stroke="#333333" stroke-width="0.26" textLength="33.80" lengthAdjust="spacingAndGlyphs" >shControl</text>
<rect x="401.80" y="385.40" width="6.20" height="6.00" fill="#cc0a2e" />
<text x="411.40" y="390.60" font-size="8.6" fill="#333333" stroke="#333333" stroke-width="0.26" textLength="39.60" lengthAdjust="spacingAndGlyphs" >shCDC73-1</text>
<rect x="401.80" y="397.40" width="6.20" height="6.00" fill="#3cae3e" />
<text x="411.40" y="402.60" font-size="8.6" fill="#333333" stroke="#333333" stroke-width="0.26" textLength="40.40" lengthAdjust="spacingAndGlyphs" >shCDC73-2</text>
<text x="405.00" y="416.90" font-size="5.4" fill="#333333" stroke="#333333" stroke-width="0.26" textLength="2.40" lengthAdjust="spacingAndGlyphs" >†</text>
<text x="407.60" y="420.20" font-size="8.9" fill="#333333" stroke="#333333" stroke-width="0.26" textLength="91.80" lengthAdjust="spacingAndGlyphs" >Notch-independent ETS1-</text>
<text x="404.60" y="429.40" font-size="8.9" fill="#333333" stroke="#333333" stroke-width="0.26" textLength="92.00" lengthAdjust="spacingAndGlyphs" >dependent T-ALL cell lines</text>
<text x="497.20" y="425.10" font-size="5.4" fill="#333333" stroke="#333333" stroke-width="0.26" textLength="5.60" lengthAdjust="spacingAndGlyphs" >17</text>
<text x="7.40" y="466.20" font-size="11.5" font-weight="bold" fill="#000" stroke="#000" stroke-width="0.45" >H</text>
<text x="194.40" y="466.20" font-size="11.5" font-weight="bold" fill="#000" stroke="#000" stroke-width="0.45" >I</text>
<text x="377.00" y="466.20" font-size="11.5" font-weight="bold" fill="#000" stroke="#000" stroke-width="0.45" >J</text>
<line x1="54.20" y1="485.00" x2="54.20" y2="555.60" stroke="#231f20" stroke-width="1.2" />
<line x1="53.60" y1="555.00" x2="124.20" y2="555.00" stroke="#231f20" stroke-width="1.2" />
<line x1="51.60" y1="555.00" x2="54.20" y2="555.00" stroke="#231f20" stroke-width="1.0" />
<line x1="51.60" y1="532.40" x2="54.20" y2="532.40" stroke="#231f20" stroke-width="1.0" />
<line x1="51.60" y1="509.80" x2="54.20" y2="509.80" stroke="#231f20" stroke-width="1.0" />
<line x1="51.60" y1="487.20" x2="54.20" y2="487.20" stroke="#231f20" stroke-width="1.0" />
<text x="44.40" y="557.80" font-size="8.6" fill="#333333" stroke="#333333" stroke-width="0.26" textLength="4.40" lengthAdjust="spacingAndGlyphs" >0</text>
<text x="39.90" y="535.20" font-size="8.6" fill="#333333" stroke="#333333" stroke-width="0.26" textLength="8.90" lengthAdjust="spacingAndGlyphs" >50</text>
<text x="35.10" y="512.60" font-size="8.6" fill="#333333" stroke="#333333" stroke-width="0.26" textLength="13.70" lengthAdjust="spacingAndGlyphs" >100</text>
<text x="35.10" y="490.00" font-size="8.6" fill="#333333" stroke="#333333" stroke-width="0.26" textLength="13.70" lengthAdjust="spacingAndGlyphs" >150</text>
<line x1="54.20" y1="555.00" x2="54.20" y2="557.40" stroke="#231f20" stroke-width="1.0" />
<text x="52.00" y="568.80" font-size="8.6" fill="#333333" stroke="#333333" stroke-width="0.26" textLength="4.40" lengthAdjust="spacingAndGlyphs" >0</text>
<line x1="67.74" y1="555.00" x2="67.74" y2="557.40" stroke="#231f20" stroke-width="1.0" />
<text x="65.54" y="568.80" font-size="8.6" fill="#333333" stroke="#333333" stroke-width="0.26" textLength="4.40" lengthAdjust="spacingAndGlyphs" >2</text>
<line x1="81.28" y1="555.00" x2="81.28" y2="557.40" stroke="#231f20" stroke-width="1.0" />
<text x="79.08" y="568.80" font-size="8.6" fill="#333333" stroke="#333333" stroke-width="0.26" textLength="4.40" lengthAdjust="spacingAndGlyphs" >4</text>
<line x1="94.82" y1="555.00" x2="94.82" y2="557.40" stroke="#231f20" stroke-width="1.0" />
<text x="92.62" y="568.80" font-size="8.6" fill="#333333" stroke="#333333" stroke-width="0.26" textLength="4.40" lengthAdjust="spacingAndGlyphs" >6</text>
<line x1="108.36" y1="555.00" x2="108.36" y2="557.40" stroke="#231f20" stroke-width="1.0" />
<text x="106.16" y="568.80" font-size="8.6" fill="#333333" stroke="#333333" stroke-width="0.26" textLength="4.40" lengthAdjust="spacingAndGlyphs" >8</text>
<line x1="121.90" y1="555.00" x2="121.90" y2="557.40" stroke="#231f20" stroke-width="1.0" />
<text x="117.30" y="568.80" font-size="8.6" fill="#333333" stroke="#333333" stroke-width="0.26" textLength="9.20" lengthAdjust="spacingAndGlyphs" >10</text>
<text x="24.80" y="519.40" font-size="10.4" text-anchor="middle" fill="#333333" stroke="#333333" stroke-width="0.18" textLength="34.8" lengthAdjust="spacingAndGlyphs" transform="rotate(-90 24.80 519.40)" dominant-baseline="central">%viability</text>
<text x="63.60" y="582.00" font-size="10.3" fill="#333333" stroke="#333333" stroke-width="0.2" textLength="52.90" lengthAdjust="spacingAndGlyphs" >Days of culture</text>
<text x="78.00" y="478.70" font-size="9.8" stroke="#231f20" stroke-width="0.18" textLength="25.40" lengthAdjust="spacingAndGlyphs" >PDX3</text>
<path d="M54.20 509.80 L74.51 533.76 L94.82 546.86 L115.13 547.32" stroke="#5fba5a" stroke-width="1.2" fill="none" />
<path d="M54.20 509.80 L74.51 536.02 L94.82 542.80 L115.13 545.51" stroke="#c1272d" stroke-width="1.2" fill="none" />
<path d="M54.20 509.80 L74.51 509.80 L94.82 509.80 L115.13 509.80" stroke="#2a5286" stroke-width="1.2" fill="none" />
<line x1="74.51" y1="530.14" x2="74.51" y2="537.37" stroke="#5fba5a" stroke-width="0.9" />
<line x1="72.91" y1="530.14" x2="76.11" y2="530.14" stroke="#5fba5a" stroke-width="0.9" />
<line x1="72.91" y1="537.37" x2="76.11" y2="537.37" stroke="#5fba5a" stroke-width="0.9" />
<line x1="94.82" y1="544.60" x2="94.82" y2="549.12" stroke="#5fba5a" stroke-width="0.9" />
<line x1="93.22" y1="544.60" x2="96.42" y2="544.60" stroke="#5fba5a" stroke-width="0.9" />
<line x1="93.22" y1="549.12" x2="96.42" y2="549.12" stroke="#5fba5a" stroke-width="0.9" />
<line x1="115.13" y1="545.96" x2="115.13" y2="548.67" stroke="#5fba5a" stroke-width="0.9" />
<line x1="113.53" y1="545.96" x2="116.73" y2="545.96" stroke="#5fba5a" stroke-width="0.9" />
<line x1="113.53" y1="548.67" x2="116.73" y2="548.67" stroke="#5fba5a" stroke-width="0.9" />
<rect x="53.00" y="508.60" width="2.4" height="2.4" fill="#5fba5a"/>
<rect x="73.31" y="532.56" width="2.4" height="2.4" fill="#5fba5a"/>
<rect x="93.62" y="545.66" width="2.4" height="2.4" fill="#5fba5a"/>
<rect x="113.93" y="546.12" width="2.4" height="2.4" fill="#5fba5a"/>
<line x1="74.51" y1="534.21" x2="74.51" y2="537.82" stroke="#c1272d" stroke-width="0.9" />
<line x1="72.91" y1="534.21" x2="76.11" y2="534.21" stroke="#c1272d" stroke-width="0.9" />
<line x1="72.91" y1="537.82" x2="76.11" y2="537.82" stroke="#c1272d" stroke-width="0.9" />
<line x1="94.82" y1="540.08" x2="94.82" y2="545.51" stroke="#c1272d" stroke-width="0.9" />
<line x1="93.22" y1="540.08" x2="96.42" y2="540.08" stroke="#c1272d" stroke-width="0.9" />
<line x1="93.22" y1="545.51" x2="96.42" y2="545.51" stroke="#c1272d" stroke-width="0.9" />
<line x1="115.13" y1="543.70" x2="115.13" y2="547.32" stroke="#c1272d" stroke-width="0.9" />
<line x1="113.53" y1="543.70" x2="116.73" y2="543.70" stroke="#c1272d" stroke-width="0.9" />
<line x1="113.53" y1="547.32" x2="116.73" y2="547.32" stroke="#c1272d" stroke-width="0.9" />
<rect x="53.00" y="508.60" width="2.4" height="2.4" fill="#c1272d"/>
<rect x="73.31" y="534.82" width="2.4" height="2.4" fill="#c1272d"/>
<rect x="93.62" y="541.60" width="2.4" height="2.4" fill="#c1272d"/>
<rect x="113.93" y="544.31" width="2.4" height="2.4" fill="#c1272d"/>
<line x1="74.51" y1="503.02" x2="74.51" y2="516.58" stroke="#2a5286" stroke-width="0.9" />
<line x1="72.91" y1="503.02" x2="76.11" y2="503.02" stroke="#2a5286" stroke-width="0.9" />
<line x1="72.91" y1="516.58" x2="76.11" y2="516.58" stroke="#2a5286" stroke-width="0.9" />
<line x1="94.82" y1="501.66" x2="94.82" y2="517.94" stroke="#2a5286" stroke-width="0.9" />
<line x1="93.22" y1="501.66" x2="96.42" y2="501.66" stroke="#2a5286" stroke-width="0.9" />
<line x1="93.22" y1="517.94" x2="96.42" y2="517.94" stroke="#2a5286" stroke-width="0.9" />
<line x1="115.13" y1="498.95" x2="115.13" y2="520.65" stroke="#2a5286" stroke-width="0.9" />
<line x1="113.53" y1="498.95" x2="116.73" y2="498.95" stroke="#2a5286" stroke-width="0.9" />
<line x1="113.53" y1="520.65" x2="116.73" y2="520.65" stroke="#2a5286" stroke-width="0.9" />
<rect x="53.00" y="508.60" width="2.4" height="2.4" fill="#2a5286"/>
<rect x="73.31" y="508.60" width="2.4" height="2.4" fill="#2a5286"/>
<rect x="93.62" y="508.60" width="2.4" height="2.4" fill="#2a5286"/>
<rect x="113.93" y="508.60" width="2.4" height="2.4" fill="#2a5286"/>
<circle cx="120.70" cy="545.00" r="0.95" fill="#2a2a2a"/>
<circle cx="124.30" cy="545.00" r="0.95" fill="#2a2a2a"/>
<circle cx="127.90" cy="545.00" r="0.95" fill="#2a2a2a"/>
<circle cx="120.70" cy="548.80" r="0.95" fill="#2a2a2a"/>
<circle cx="124.30" cy="548.80" r="0.95" fill="#2a2a2a"/>
<circle cx="127.90" cy="548.80" r="0.95" fill="#2a2a2a"/>
<line x1="123.40" y1="509.70" x2="138.80" y2="509.70" stroke="#2a5286" stroke-width="1.0" />
<rect x="130.10" y="508.70" width="2.0" height="2.0" fill="#2a5286"/>
<text x="142.20" y="512.20" font-size="8.6" fill="#333333" stroke="#333333" stroke-width="0.26" textLength="33.90" lengthAdjust="spacingAndGlyphs" >shControl</text>
<line x1="123.40" y1="519.00" x2="138.80" y2="519.00" stroke="#c1272d" stroke-width="1.0" />
<rect x="130.10" y="518.00" width="2.0" height="2.0" fill="#c1272d"/>
<text x="142.20" y="521.50" font-size="8.6" fill="#333333" stroke="#333333" stroke-width="0.26" textLength="39.20" lengthAdjust="spacingAndGlyphs" >shCDC73-1</text>
<line x1="123.40" y1="528.30" x2="138.80" y2="528.30" stroke="#5fba5a" stroke-width="1.0" />
<rect x="130.10" y="527.30" width="2.0" height="2.0" fill="#5fba5a"/>
<text x="142.20" y="530.80" font-size="8.6" fill="#333333" stroke="#333333" stroke-width="0.26" textLength="39.90" lengthAdjust="spacingAndGlyphs" >shCDC73-2</text>
<line x1="229.70" y1="485.00" x2="229.70" y2="555.60" stroke="#231f20" stroke-width="1.2" />
<line x1="229.10" y1="555.00" x2="299.70" y2="555.00" stroke="#231f20" stroke-width="1.2" />
<line x1="227.10" y1="555.00" x2="229.70" y2="555.00" stroke="#231f20" stroke-width="1.0" />
<line x1="227.10" y1="532.40" x2="229.70" y2="532.40" stroke="#231f20" stroke-width="1.0" />
<line x1="227.10" y1="509.80" x2="229.70" y2="509.80" stroke="#231f20" stroke-width="1.0" />
<line x1="227.10" y1="487.20" x2="229.70" y2="487.20" stroke="#231f20" stroke-width="1.0" />
<text x="219.90" y="557.80" font-size="8.6" fill="#333333" stroke="#333333" stroke-width="0.26" textLength="4.40" lengthAdjust="spacingAndGlyphs" >0</text>
<text x="215.40" y="535.20" font-size="8.6" fill="#333333" stroke="#333333" stroke-width="0.26" textLength="8.90" lengthAdjust="spacingAndGlyphs" >50</text>
<text x="210.60" y="512.60" font-size="8.6" fill="#333333" stroke="#333333" stroke-width="0.26" textLength="13.70" lengthAdjust="spacingAndGlyphs" >100</text>
<text x="210.60" y="490.00" font-size="8.6" fill="#333333" stroke="#333333" stroke-width="0.26" textLength="13.70" lengthAdjust="spacingAndGlyphs" >150</text>
<line x1="229.70" y1="555.00" x2="229.70" y2="557.40" stroke="#231f20" stroke-width="1.0" />
<text x="227.50" y="568.80" font-size="8.6" fill="#333333" stroke="#333333" stroke-width="0.26" textLength="4.40" lengthAdjust="spacingAndGlyphs" >0</text>
<line x1="243.24" y1="555.00" x2="243.24" y2="557.40" stroke="#231f20" stroke-width="1.0" />
<text x="241.04" y="568.80" font-size="8.6" fill="#333333" stroke="#333333" stroke-width="0.26" textLength="4.40" lengthAdjust="spacingAndGlyphs" >2</text>
<line x1="256.78" y1="555.00" x2="256.78" y2="557.40" stroke="#231f20" stroke-width="1.0" />
<text x="254.58" y="568.80" font-size="8.6" fill="#333333" stroke="#333333" stroke-width="0.26" textLength="4.40" lengthAdjust="spacingAndGlyphs" >4</text>
<line x1="270.32" y1="555.00" x2="270.32" y2="557.40" stroke="#231f20" stroke-width="1.0" />
<text x="268.12" y="568.80" font-size="8.6" fill="#333333" stroke="#333333" stroke-width="0.26" textLength="4.40" lengthAdjust="spacingAndGlyphs" >6</text>
<line x1="283.86" y1="555.00" x2="283.86" y2="557.40" stroke="#231f20" stroke-width="1.0" />
<text x="281.66" y="568.80" font-size="8.6" fill="#333333" stroke="#333333" stroke-width="0.26" textLength="4.40" lengthAdjust="spacingAndGlyphs" >8</text>
<line x1="297.40" y1="555.00" x2="297.40" y2="557.40" stroke="#231f20" stroke-width="1.0" />
<text x="292.80" y="568.80" font-size="8.6" fill="#333333" stroke="#333333" stroke-width="0.26" textLength="9.20" lengthAdjust="spacingAndGlyphs" >10</text>
<text x="201.10" y="519.40" font-size="10.4" text-anchor="middle" fill="#333333" stroke="#333333" stroke-width="0.18" textLength="34.8" lengthAdjust="spacingAndGlyphs" transform="rotate(-90 201.10 519.40)" dominant-baseline="central">%viability</text>
<text x="239.20" y="582.00" font-size="10.3" fill="#333333" stroke="#333333" stroke-width="0.2" textLength="51.80" lengthAdjust="spacingAndGlyphs" >Days of culture</text>
<text x="252.40" y="478.70" font-size="9.8" stroke="#231f20" stroke-width="0.18" textLength="25.50" lengthAdjust="spacingAndGlyphs" >PDX4</text>
<path d="M229.70 509.80 L250.01 513.42 L270.32 540.54 L290.63 543.70" stroke="#5fba5a" stroke-width="1.2" fill="none" />
<path d="M229.70 509.80 L250.01 514.32 L270.32 537.37 L290.63 540.08" stroke="#c1272d" stroke-width="1.2" fill="none" />
<path d="M229.70 509.80 L250.01 509.80 L270.32 509.80 L290.63 509.80" stroke="#2a5286" stroke-width="1.2" fill="none" />
<line x1="250.01" y1="512.06" x2="250.01" y2="514.77" stroke="#5fba5a" stroke-width="0.9" />
<line x1="248.41" y1="512.06" x2="251.61" y2="512.06" stroke="#5fba5a" stroke-width="0.9" />
<line x1="248.41" y1="514.77" x2="251.61" y2="514.77" stroke="#5fba5a" stroke-width="0.9" />
<line x1="270.32" y1="537.82" x2="270.32" y2="543.25" stroke="#5fba5a" stroke-width="0.9" />
<line x1="268.72" y1="537.82" x2="271.92" y2="537.82" stroke="#5fba5a" stroke-width="0.9" />
<line x1="268.72" y1="543.25" x2="271.92" y2="543.25" stroke="#5fba5a" stroke-width="0.9" />
<line x1="290.63" y1="540.99" x2="290.63" y2="546.41" stroke="#5fba5a" stroke-width="0.9" />
<line x1="289.03" y1="540.99" x2="292.23" y2="540.99" stroke="#5fba5a" stroke-width="0.9" />
<line x1="289.03" y1="546.41" x2="292.23" y2="546.41" stroke="#5fba5a" stroke-width="0.9" />
<rect x="228.50" y="508.60" width="2.4" height="2.4" fill="#5fba5a"/>
<rect x="248.81" y="512.22" width="2.4" height="2.4" fill="#5fba5a"/>
<rect x="269.12" y="539.34" width="2.4" height="2.4" fill="#5fba5a"/>
<rect x="289.43" y="542.50" width="2.4" height="2.4" fill="#5fba5a"/>
<line x1="250.01" y1="512.51" x2="250.01" y2="516.13" stroke="#c1272d" stroke-width="0.9" />
<line x1="248.41" y1="512.51" x2="251.61" y2="512.51" stroke="#c1272d" stroke-width="0.9" />
<line x1="248.41" y1="516.13" x2="251.61" y2="516.13" stroke="#c1272d" stroke-width="0.9" />
<line x1="270.32" y1="531.04" x2="270.32" y2="543.70" stroke="#c1272d" stroke-width="0.9" />
<line x1="268.72" y1="531.04" x2="271.92" y2="531.04" stroke="#c1272d" stroke-width="0.9" />
<line x1="268.72" y1="543.70" x2="271.92" y2="543.70" stroke="#c1272d" stroke-width="0.9" />
<line x1="290.63" y1="533.76" x2="290.63" y2="546.41" stroke="#c1272d" stroke-width="0.9" />
<line x1="289.03" y1="533.76" x2="292.23" y2="533.76" stroke="#c1272d" stroke-width="0.9" />
<line x1="289.03" y1="546.41" x2="292.23" y2="546.41" stroke="#c1272d" stroke-width="0.9" />
<rect x="228.50" y="508.60" width="2.4" height="2.4" fill="#c1272d"/>
<rect x="248.81" y="513.12" width="2.4" height="2.4" fill="#c1272d"/>
<rect x="269.12" y="536.17" width="2.4" height="2.4" fill="#c1272d"/>
<rect x="289.43" y="538.88" width="2.4" height="2.4" fill="#c1272d"/>
<line x1="250.01" y1="500.76" x2="250.01" y2="518.84" stroke="#2a5286" stroke-width="0.9" />
<line x1="248.41" y1="500.76" x2="251.61" y2="500.76" stroke="#2a5286" stroke-width="0.9" />
<line x1="248.41" y1="518.84" x2="251.61" y2="518.84" stroke="#2a5286" stroke-width="0.9" />
<line x1="270.32" y1="508.44" x2="270.32" y2="511.16" stroke="#2a5286" stroke-width="0.9" />
<line x1="268.72" y1="508.44" x2="271.92" y2="508.44" stroke="#2a5286" stroke-width="0.9" />
<line x1="268.72" y1="511.16" x2="271.92" y2="511.16" stroke="#2a5286" stroke-width="0.9" />
<line x1="290.63" y1="508.90" x2="290.63" y2="510.70" stroke="#2a5286" stroke-width="0.9" />
<line x1="289.03" y1="508.90" x2="292.23" y2="508.90" stroke="#2a5286" stroke-width="0.9" />
<line x1="289.03" y1="510.70" x2="292.23" y2="510.70" stroke="#2a5286" stroke-width="0.9" />
<rect x="228.50" y="508.60" width="2.4" height="2.4" fill="#2a5286"/>
<rect x="248.81" y="508.60" width="2.4" height="2.4" fill="#2a5286"/>
<rect x="269.12" y="508.60" width="2.4" height="2.4" fill="#2a5286"/>
<rect x="289.43" y="508.60" width="2.4" height="2.4" fill="#2a5286"/>
<circle cx="296.60" cy="541.00" r="0.95" fill="#2a2a2a"/>
<circle cx="300.20" cy="541.00" r="0.95" fill="#2a2a2a"/>
<circle cx="303.80" cy="541.00" r="0.95" fill="#2a2a2a"/>
<circle cx="296.60" cy="544.60" r="0.95" fill="#2a2a2a"/>
<circle cx="300.20" cy="544.60" r="0.95" fill="#2a2a2a"/>
<circle cx="303.80" cy="544.60" r="0.95" fill="#2a2a2a"/>
<line x1="298.90" y1="509.70" x2="314.30" y2="509.70" stroke="#2a5286" stroke-width="1.0" />
<rect x="305.60" y="508.70" width="2.0" height="2.0" fill="#2a5286"/>
<text x="317.70" y="512.20" font-size="8.6" fill="#333333" stroke="#333333" stroke-width="0.26" textLength="33.70" lengthAdjust="spacingAndGlyphs" >shControl</text>
<line x1="298.90" y1="519.00" x2="314.30" y2="519.00" stroke="#c1272d" stroke-width="1.0" />
<rect x="305.60" y="518.00" width="2.0" height="2.0" fill="#c1272d"/>
<text x="317.70" y="521.50" font-size="8.6" fill="#333333" stroke="#333333" stroke-width="0.26" textLength="39.00" lengthAdjust="spacingAndGlyphs" >shCDC73-1</text>
<line x1="298.90" y1="528.30" x2="314.30" y2="528.30" stroke="#5fba5a" stroke-width="1.0" />
<rect x="305.60" y="527.30" width="2.0" height="2.0" fill="#5fba5a"/>
<text x="317.70" y="530.80" font-size="8.6" fill="#333333" stroke="#333333" stroke-width="0.26" textLength="39.70" lengthAdjust="spacingAndGlyphs" >shCDC73-2</text>
<line x1="407.80" y1="485.00" x2="407.80" y2="555.60" stroke="#231f20" stroke-width="1.2" />
<line x1="407.20" y1="555.00" x2="478.50" y2="555.00" stroke="#231f20" stroke-width="1.2" />
<line x1="405.20" y1="555.00" x2="407.80" y2="555.00" stroke="#231f20" stroke-width="1.0" />
<line x1="405.20" y1="541.40" x2="407.80" y2="541.40" stroke="#231f20" stroke-width="1.0" />
<line x1="405.20" y1="527.80" x2="407.80" y2="527.80" stroke="#231f20" stroke-width="1.0" />
<line x1="405.20" y1="514.20" x2="407.80" y2="514.20" stroke="#231f20" stroke-width="1.0" />
<line x1="405.20" y1="500.60" x2="407.80" y2="500.60" stroke="#231f20" stroke-width="1.0" />
<line x1="405.20" y1="487.00" x2="407.80" y2="487.00" stroke="#231f20" stroke-width="1.0" />
<text x="397.90" y="557.80" font-size="8.6" fill="#333333" stroke="#333333" stroke-width="0.26" textLength="4.40" lengthAdjust="spacingAndGlyphs" >0</text>
<text x="393.40" y="544.20" font-size="8.6" fill="#333333" stroke="#333333" stroke-width="0.26" textLength="8.90" lengthAdjust="spacingAndGlyphs" >20</text>
<text x="393.40" y="530.60" font-size="8.6" fill="#333333" stroke="#333333" stroke-width="0.26" textLength="8.90" lengthAdjust="spacingAndGlyphs" >40</text>
<text x="393.40" y="517.00" font-size="8.6" fill="#333333" stroke="#333333" stroke-width="0.26" textLength="8.90" lengthAdjust="spacingAndGlyphs" >60</text>
<text x="393.40" y="503.40" font-size="8.6" fill="#333333" stroke="#333333" stroke-width="0.26" textLength="8.90" lengthAdjust="spacingAndGlyphs" >80</text>
<text x="387.40" y="489.80" font-size="8.6" fill="#333333" stroke="#333333" stroke-width="0.26" textLength="14.90" lengthAdjust="spacingAndGlyphs" >100</text>
<line x1="407.80" y1="555.00" x2="407.80" y2="557.40" stroke="#231f20" stroke-width="1.0" />
<text x="405.60" y="568.60" font-size="8.6" fill="#333333" stroke="#333333" stroke-width="0.26" textLength="4.40" lengthAdjust="spacingAndGlyphs" >0</text>
<line x1="430.37" y1="555.00" x2="430.37" y2="557.40" stroke="#231f20" stroke-width="1.0" />
<text x="425.87" y="568.60" font-size="8.6" fill="#333333" stroke="#333333" stroke-width="0.26" textLength="9.00" lengthAdjust="spacingAndGlyphs" >20</text>
<line x1="452.93" y1="555.00" x2="452.93" y2="557.40" stroke="#231f20" stroke-width="1.0" />
<text x="448.43" y="568.60" font-size="8.6" fill="#333333" stroke="#333333" stroke-width="0.26" textLength="9.00" lengthAdjust="spacingAndGlyphs" >40</text>
<line x1="475.50" y1="555.00" x2="475.50" y2="557.40" stroke="#231f20" stroke-width="1.0" />
<text x="471.00" y="568.60" font-size="8.6" fill="#333333" stroke="#333333" stroke-width="0.26" textLength="9.00" lengthAdjust="spacingAndGlyphs" >60</text>
<text x="378.60" y="519.60" font-size="10.4" text-anchor="middle" fill="#333333" stroke="#333333" stroke-width="0.18" textLength="32.3" lengthAdjust="spacingAndGlyphs" transform="rotate(-90 378.60 519.60)" dominant-baseline="central">%survival</text>
<text x="407.80" y="582.20" font-size="10.3" fill="#333333" stroke="#333333" stroke-width="0.2" textLength="72.00" lengthAdjust="spacingAndGlyphs" >Days after transplant</text>
<text x="429.60" y="478.40" font-size="9.8" stroke="#231f20" stroke-width="0.18" textLength="25.60" lengthAdjust="spacingAndGlyphs" >PDX4</text>
<path d="M407.8 487.0 L463.09 487.0" stroke="#5fba5a" stroke-width="1.1" fill="none" />
<path d="M407.8 487.0 L463.09 487.0" stroke="#c1272d" stroke-width="1.1" fill="none" stroke-dasharray="2.4 1.6"/>
<path d="M407.80 487.00 L422.24 487.00 L422.24 514.20 L423.71 514.20 L423.71 541.40 L428.00 541.40 L428.00 555.00" stroke="#2a5286" stroke-width="1.1" fill="none" />
<line x1="433.30" y1="510.60" x2="448.80" y2="510.60" stroke="#2a5286" stroke-width="1.1" />
<text x="452.00" y="512.70" font-size="8.6" fill="#333333" stroke="#333333" stroke-width="0.26" textLength="33.80" lengthAdjust="spacingAndGlyphs" >shControl</text>
<line x1="433.30" y1="520.90" x2="448.80" y2="520.90" stroke="#c1272d" stroke-width="1.1" stroke-dasharray="2.4 1.6"/>
<text x="452.00" y="522.90" font-size="8.6" fill="#333333" stroke="#333333" stroke-width="0.26" textLength="39.50" lengthAdjust="spacingAndGlyphs" >shCDC73-1</text>
<line x1="433.30" y1="531.90" x2="448.80" y2="531.90" stroke="#5fba5a" stroke-width="1.1" />
<text x="452.00" y="534.20" font-size="8.6" fill="#333333" stroke="#333333" stroke-width="0.26" textLength="40.20" lengthAdjust="spacingAndGlyphs" >shCDC73-2</text>
<path d="M494.3 510 L497.8 510 L497.8 518.3 L494.3 518.3" stroke="#333" stroke-width="0.8" fill="none" />
<circle cx="501.30" cy="512.45" r="0.95" fill="#2a2a2a"/>
<circle cx="501.30" cy="515.95" r="0.95" fill="#2a2a2a"/>
<path d="M504.3 510 L507.6 510 L507.6 527.3 L504.3 527.3" stroke="#333" stroke-width="0.8" fill="none" />
<circle cx="510.30" cy="516.90" r="0.95" fill="#2a2a2a"/>
<circle cx="510.30" cy="520.50" r="0.95" fill="#2a2a2a"/>
<rect x="0.5" y="0.5" width="519" height="591" fill="none" stroke="#646464" stroke-width="1"/>
<line x1="518.5" y1="1" x2="518.5" y2="591" stroke="#b4b4b4" stroke-width="1"/>
</svg></div></body></html>
